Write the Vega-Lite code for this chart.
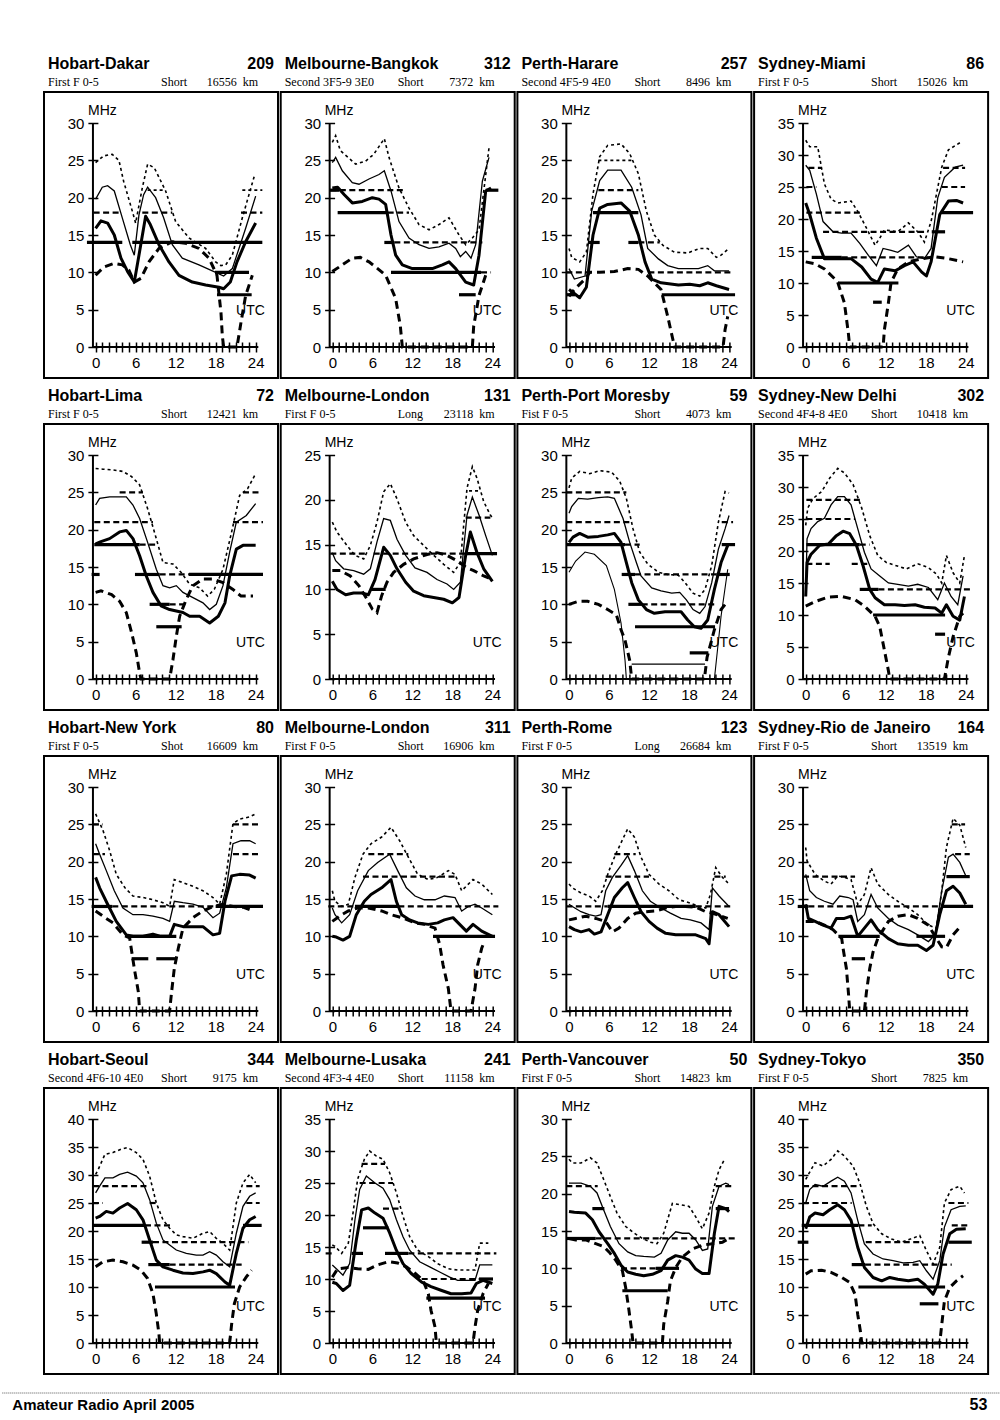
{
"$schema": "https://vega.github.io/schema/vega-lite/v6.json",
"padding": {"left": 0, "top": 53, "right": 5, "bottom": 5},
"data": {"values": [
{"p":1,"n":"Hobart-Dakar","no":"209","md":"First F 0-5","pt":"Short","km":"16556\u00a0 km","M":30},
{"p":2,"n":"Melbourne-Bangkok","no":"312","md":"Second 3F5-9 3E0","pt":"Short","km":"7372\u00a0 km","M":30},
{"p":3,"n":"Perth-Harare","no":"257","md":"Second 4F5-9 4E0","pt":"Short","km":"8496\u00a0 km","M":30},
{"p":4,"n":"Sydney-Miami","no":"86","md":"First F 0-5","pt":"Short","km":"15026\u00a0 km","M":35},
{"p":5,"n":"Hobart-Lima","no":"72","md":"First F 0-5","pt":"Short","km":"12421\u00a0 km","M":30},
{"p":6,"n":"Melbourne-London","no":"131","md":"First F 0-5","pt":"Long","km":"23118\u00a0 km","M":25},
{"p":7,"n":"Perth-Port Moresby","no":"59","md":"Fist F 0-5","pt":"Short","km":"4073\u00a0 km","M":30},
{"p":8,"n":"Sydney-New Delhi","no":"302","md":"Second 4F4-8 4E0","pt":"Short","km":"10418\u00a0 km","M":35},
{"p":9,"n":"Hobart-New York","no":"80","md":"First F 0-5","pt":"Shot","km":"16609\u00a0 km","M":30},
{"p":10,"n":"Melbourne-London","no":"311","md":"First F 0-5","pt":"Short","km":"16906\u00a0 km","M":30},
{"p":11,"n":"Perth-Rome","no":"123","md":"First F 0-5","pt":"Long","km":"26684\u00a0 km","M":30},
{"p":12,"n":"Sydney-Rio de Janeiro","no":"164","md":"First F 0-5","pt":"Short","km":"13519\u00a0 km","M":30},
{"p":13,"n":"Hobart-Seoul","no":"344","md":"Second 4F6-10 4E0","pt":"Short","km":"9175\u00a0 km","M":40},
{"p":14,"n":"Melbourne-Lusaka","no":"241","md":"Second 4F3-4 4E0","pt":"Short","km":"11158\u00a0 km","M":35},
{"p":15,"n":"Perth-Vancouver","no":"50","md":"First F 0-5","pt":"Short","km":"14823\u00a0 km","M":30},
{"p":16,"n":"Sydney-Tokyo","no":"350","md":"First F 0-5","pt":"Short","km":"7825\u00a0 km","M":40},
{"p":13,"ft":"Amateur Radio April 2005"},
{"p":16,"ft":"53"},

{"p":1,"s":"u","h":0,"f":24.7},{"p":1,"s":"u","h":1.2,"f":25.6},{"p":1,"s":"u","h":2.5,"f":25.8},{"p":1,"s":"u","h":3.5,"f":25},{"p":1,"s":"u","h":4.2,"f":22.2},{"p":1,"s":"u","h":5.5,"f":18.2},{"p":1,"s":"u","h":6,"f":16.6},{"p":1,"s":"u","h":7,"f":21.3},{"p":1,"s":"u","h":7.8,"f":24.5},{"p":1,"s":"u","h":8.8,"f":24},{"p":1,"s":"u","h":10.5,"f":20.9},{"p":1,"s":"u","h":12,"f":16.8},{"p":1,"s":"u","h":14,"f":14.6},{"p":1,"s":"u","h":16.5,"f":13.2},{"p":1,"s":"u","h":18,"f":11.4},{"p":1,"s":"u","h":18.8,"f":10.9},{"p":1,"s":"u","h":19.5,"f":11},{"p":1,"s":"u","h":20.5,"f":12.3},{"p":1,"s":"u","h":22,"f":17.3},{"p":1,"s":"u","h":23.8,"f":22.9},
{"p":1,"s":"m","h":0,"f":19.8},{"p":1,"s":"m","h":1,"f":21.4},{"p":1,"s":"m","h":1.8,"f":21.6},{"p":1,"s":"m","h":2.8,"f":20.9},{"p":1,"s":"m","h":4,"f":17.3},{"p":1,"s":"m","h":5.2,"f":13.7},{"p":1,"s":"m","h":5.8,"f":12.3},{"p":1,"s":"m","h":6.5,"f":17.7},{"p":1,"s":"m","h":7.2,"f":20.4},{"p":1,"s":"m","h":7.8,"f":21.4},{"p":1,"s":"m","h":9,"f":20},{"p":1,"s":"m","h":10.2,"f":17.3},{"p":1,"s":"m","h":11.5,"f":13.7},{"p":1,"s":"m","h":13,"f":11.9},{"p":1,"s":"m","h":15.5,"f":11},{"p":1,"s":"m","h":18,"f":10},{"p":1,"s":"m","h":19.2,"f":9.5},{"p":1,"s":"m","h":20.5,"f":10.5},{"p":1,"s":"m","h":21.5,"f":13.2},{"p":1,"s":"m","h":22.5,"f":15.9},{"p":1,"s":"m","h":24,"f":20.2},
{"p":1,"s":"t","h":0,"f":15.9},{"p":1,"s":"t","h":0.8,"f":16.9},{"p":1,"s":"t","h":1.8,"f":16.6},{"p":1,"s":"t","h":2.8,"f":15},{"p":1,"s":"t","h":3.8,"f":11.9},{"p":1,"s":"t","h":4.8,"f":10.1},{"p":1,"s":"t","h":5.8,"f":8.7},{"p":1,"s":"t","h":6.5,"f":12.3},{"p":1,"s":"t","h":7.5,"f":17.5},{"p":1,"s":"t","h":8.2,"f":16.4},{"p":1,"s":"t","h":9.5,"f":13.7},{"p":1,"s":"t","h":11,"f":11.4},{"p":1,"s":"t","h":12.5,"f":9.6},{"p":1,"s":"t","h":14.5,"f":8.7},{"p":1,"s":"t","h":16.5,"f":8.3},{"p":1,"s":"t","h":18.5,"f":8},{"p":1,"s":"t","h":19.2,"f":7.8},{"p":1,"s":"t","h":20.2,"f":8.7},{"p":1,"s":"t","h":21.2,"f":11.4},{"p":1,"s":"t","h":22.5,"f":14.1},{"p":1,"s":"t","h":24,"f":16.6},
{"p":1,"s":"l","h":0,"f":9.6},{"p":1,"s":"l","h":1.2,"f":10.7},{"p":1,"s":"l","h":2.8,"f":11.2},{"p":1,"s":"l","h":4,"f":11},{"p":1,"s":"l","h":5,"f":10.3},{"p":1,"s":"l","h":5.8,"f":8.7},{"p":1,"s":"l","h":6.8,"f":9.2},{"p":1,"s":"l","h":8,"f":11.4},{"p":1,"s":"l","h":9.5,"f":13.2},{"p":1,"s":"l","h":11.5,"f":14.1},{"p":1,"s":"l","h":13.5,"f":13.9},{"p":1,"s":"l","h":15.5,"f":13.2},{"p":1,"s":"l","h":17,"f":11.9},{"p":1,"s":"l","h":18.2,"f":9.6},{"p":1,"s":"l","h":18.8,"f":4.6},{"p":1,"s":"l","h":19,"f":1.5},{"p":1,"s":"l","h":19.2,"f":0},{"p":1,"s":"l","h":21.2,"f":0},{"p":1,"s":"l","h":21.8,"f":3.3},{"p":1,"s":"l","h":22.5,"f":6.9},{"p":1,"s":"l","h":23.5,"f":9.6},
{"p":1,"b":"o","h0":7.8,"h1":10.5,"f":21},{"p":1,"b":"o","h0":22,"h1":25,"f":21},
{"p":1,"b":"d","h0":-0.3,"h1":3.8,"f":18},{"p":1,"b":"d","h0":7,"h1":11.5,"f":18},{"p":1,"b":"d","h0":21.8,"h1":25,"f":18},
{"p":1,"b":"s","h0":-1.3,"h1":4,"f":14},{"p":1,"b":"s","h0":5.5,"h1":25,"f":14},{"p":1,"b":"s","h0":17.9,"h1":23,"f":10},{"p":1,"b":"s","h0":18.2,"h1":23.4,"f":7},

{"p":2,"s":"u","h":0,"f":27.4},{"p":2,"s":"u","h":0.5,"f":28.3},{"p":2,"s":"u","h":1.2,"f":26.3},{"p":2,"s":"u","h":3.5,"f":24.5},{"p":2,"s":"u","h":5,"f":24.9},{"p":2,"s":"u","h":6.2,"f":25.8},{"p":2,"s":"u","h":7.8,"f":27.9},{"p":2,"s":"u","h":8.5,"f":25.4},{"p":2,"s":"u","h":10,"f":21.3},{"p":2,"s":"u","h":11.5,"f":18.6},{"p":2,"s":"u","h":13,"f":16.4},{"p":2,"s":"u","h":14.5,"f":15.7},{"p":2,"s":"u","h":16,"f":16.4},{"p":2,"s":"u","h":17.5,"f":17.3},{"p":2,"s":"u","h":19,"f":15},{"p":2,"s":"u","h":20,"f":13.7},{"p":2,"s":"u","h":21,"f":14.6},{"p":2,"s":"u","h":22,"f":15.7},{"p":2,"s":"u","h":23.5,"f":26.7},
{"p":2,"s":"m","h":0,"f":24.7},{"p":2,"s":"m","h":0.5,"f":25.4},{"p":2,"s":"m","h":1.5,"f":23.6},{"p":2,"s":"m","h":3,"f":22},{"p":2,"s":"m","h":4,"f":21.8},{"p":2,"s":"m","h":5.5,"f":22.5},{"p":2,"s":"m","h":7,"f":23.1},{"p":2,"s":"m","h":7.8,"f":23.6},{"p":2,"s":"m","h":8.8,"f":20.9},{"p":2,"s":"m","h":10,"f":16.8},{"p":2,"s":"m","h":11.5,"f":14.6},{"p":2,"s":"m","h":13,"f":13.7},{"p":2,"s":"m","h":14.5,"f":13.2},{"p":2,"s":"m","h":16,"f":13.4},{"p":2,"s":"m","h":17.5,"f":13.9},{"p":2,"s":"m","h":18.5,"f":13.2},{"p":2,"s":"m","h":19.2,"f":12.1},{"p":2,"s":"m","h":20,"f":12.8},{"p":2,"s":"m","h":20.8,"f":11.9},{"p":2,"s":"m","h":21.5,"f":13.7},{"p":2,"s":"m","h":22.5,"f":22.2},{"p":2,"s":"m","h":23.5,"f":25.4},
{"p":2,"s":"t","h":0,"f":21.3},{"p":2,"s":"t","h":0.8,"f":21.4},{"p":2,"s":"t","h":1.8,"f":20.4},{"p":2,"s":"t","h":3,"f":19.3},{"p":2,"s":"t","h":4.5,"f":19.5},{"p":2,"s":"t","h":6,"f":20},{"p":2,"s":"t","h":7,"f":19.8},{"p":2,"s":"t","h":8,"f":19.1},{"p":2,"s":"t","h":8.8,"f":15},{"p":2,"s":"t","h":9.5,"f":12.3},{"p":2,"s":"t","h":10.5,"f":11},{"p":2,"s":"t","h":12,"f":10.5},{"p":2,"s":"t","h":13.5,"f":10.5},{"p":2,"s":"t","h":15,"f":10.5},{"p":2,"s":"t","h":16.5,"f":11},{"p":2,"s":"t","h":17.5,"f":11.4},{"p":2,"s":"t","h":18.5,"f":10.5},{"p":2,"s":"t","h":20,"f":8.7},{"p":2,"s":"t","h":21.2,"f":8.3},{"p":2,"s":"t","h":22,"f":12.3},{"p":2,"s":"t","h":23,"f":20.9},{"p":2,"s":"t","h":23.8,"f":21.3},
{"p":2,"s":"l","h":0,"f":10.1},{"p":2,"s":"l","h":1.5,"f":11},{"p":2,"s":"l","h":3,"f":11.9},{"p":2,"s":"l","h":4.2,"f":12},{"p":2,"s":"l","h":5.5,"f":11.4},{"p":2,"s":"l","h":6.8,"f":10.5},{"p":2,"s":"l","h":8,"f":9.6},{"p":2,"s":"l","h":9.5,"f":6.5},{"p":2,"s":"l","h":10.2,"f":2.8},{"p":2,"s":"l","h":10.5,"f":0},{"p":2,"s":"l","h":21,"f":0},{"p":2,"s":"l","h":21.2,"f":2.8},{"p":2,"s":"l","h":22,"f":6.9},{"p":2,"s":"l","h":23,"f":9.6},
{"p":2,"b":"d","h0":-0.3,"h1":10.8,"f":21},{"p":2,"b":"s","h0":-0.5,"h1":1,"f":21},{"p":2,"b":"s","h0":23,"h1":24.9,"f":21},
{"p":2,"b":"s","h0":0.8,"h1":8.3,"f":18},{"p":2,"b":"d","h0":8.3,"h1":11.5,"f":18},
{"p":2,"b":"s","h0":7.8,"h1":9.3,"f":14},{"p":2,"b":"d","h0":9.3,"h1":22.5,"f":14},
{"p":2,"b":"s","h0":8.8,"h1":22.3,"f":10},{"p":2,"b":"d","h0":22.3,"h1":23.8,"f":10},{"p":2,"b":"s","h0":19,"h1":21.5,"f":7},

{"p":3,"s":"u","h":0,"f":13.2},{"p":3,"s":"u","h":0.4,"f":12},{"p":3,"s":"u","h":1.6,"f":11.4},{"p":3,"s":"u","h":2.6,"f":12.7},{"p":3,"s":"u","h":3.6,"f":20.5},{"p":3,"s":"u","h":4.6,"f":25.5},{"p":3,"s":"u","h":5.8,"f":27},{"p":3,"s":"u","h":7.8,"f":27.2},{"p":3,"s":"u","h":9.1,"f":25.9},{"p":3,"s":"u","h":10.4,"f":23.2},{"p":3,"s":"u","h":11.6,"f":18.2},{"p":3,"s":"u","h":12.8,"f":15},{"p":3,"s":"u","h":14.1,"f":13.6},{"p":3,"s":"u","h":15.8,"f":12.7},{"p":3,"s":"u","h":17.8,"f":12.6},{"p":3,"s":"u","h":19.6,"f":13.2},{"p":3,"s":"u","h":20.8,"f":13.2},{"p":3,"s":"u","h":22.1,"f":12},{"p":3,"s":"u","h":22.8,"f":12.3},{"p":3,"s":"u","h":24,"f":13.2},
{"p":3,"s":"m","h":0,"f":10.5},{"p":3,"s":"m","h":0.8,"f":9.1},{"p":3,"s":"m","h":2.4,"f":9.5},{"p":3,"s":"m","h":3.4,"f":18.2},{"p":3,"s":"m","h":4.6,"f":22.3},{"p":3,"s":"m","h":5.8,"f":23.7},{"p":3,"s":"m","h":7.8,"f":23.7},{"p":3,"s":"m","h":9.4,"f":21.4},{"p":3,"s":"m","h":10.8,"f":17.7},{"p":3,"s":"m","h":11.8,"f":13.2},{"p":3,"s":"m","h":13.4,"f":11.8},{"p":3,"s":"m","h":14.8,"f":10.9},{"p":3,"s":"m","h":16.4,"f":10.5},{"p":3,"s":"m","h":17.8,"f":10.5},{"p":3,"s":"m","h":19.4,"f":10.5},{"p":3,"s":"m","h":20.8,"f":10.9},{"p":3,"s":"m","h":21.8,"f":10.2},{"p":3,"s":"m","h":24,"f":10.2},
{"p":3,"s":"t","h":0,"f":7.7},{"p":3,"s":"t","h":0.6,"f":7.3},{"p":3,"s":"t","h":1.6,"f":6.6},{"p":3,"s":"t","h":2.6,"f":8},{"p":3,"s":"t","h":3.6,"f":15},{"p":3,"s":"t","h":4.6,"f":18.6},{"p":3,"s":"t","h":5.8,"f":19.1},{"p":3,"s":"t","h":7.8,"f":19.3},{"p":3,"s":"t","h":9.1,"f":18.2},{"p":3,"s":"t","h":10.4,"f":15},{"p":3,"s":"t","h":11.4,"f":11.4},{"p":3,"s":"t","h":12.4,"f":9.1},{"p":3,"s":"t","h":13.8,"f":8.6},{"p":3,"s":"t","h":16.4,"f":8.3},{"p":3,"s":"t","h":18.1,"f":8.4},{"p":3,"s":"t","h":19.6,"f":8.2},{"p":3,"s":"t","h":20.8,"f":8.6},{"p":3,"s":"t","h":22.1,"f":8.2},{"p":3,"s":"t","h":24,"f":7.7},
{"p":3,"s":"l","h":0,"f":6.8},{"p":3,"s":"l","h":0.8,"f":7.7},{"p":3,"s":"l","h":2.4,"f":9.1},{"p":3,"s":"l","h":3.1,"f":10},{"p":3,"s":"l","h":4.6,"f":10},{"p":3,"s":"l","h":6.8,"f":10.1},{"p":3,"s":"l","h":8.8,"f":10.5},{"p":3,"s":"l","h":10.4,"f":10.4},{"p":3,"s":"l","h":11.8,"f":9.5},{"p":3,"s":"l","h":13.8,"f":7.7},{"p":3,"s":"l","h":14.8,"f":4.1},{"p":3,"s":"l","h":15.6,"f":0.9},{"p":3,"s":"l","h":15.8,"f":0},{"p":3,"s":"l","h":23.1,"f":0},{"p":3,"s":"l","h":23.4,"f":2.3},{"p":3,"s":"l","h":23.8,"f":4.1},
{"p":3,"b":"o","h0":4.4,"h1":9.4,"f":25},{"p":3,"b":"d","h0":4.4,"h1":10.4,"f":21},{"p":3,"b":"s","h0":3.6,"h1":10.4,"f":18},
{"p":3,"b":"s","h0":2.9,"h1":4.6,"f":14},{"p":3,"b":"s","h0":8.9,"h1":10.4,"f":14},{"p":3,"b":"d","h0":10.4,"h1":13.6,"f":14},
{"p":3,"b":"d","h0":-0.4,"h1":3.4,"f":10},{"p":3,"b":"d","h0":11.9,"h1":24.4,"f":10},{"p":3,"b":"s","h0":-0.4,"h1":0.9,"f":7},{"p":3,"b":"s","h0":13.9,"h1":24.9,"f":7},

{"p":4,"s":"u","h":0,"f":32.3},{"p":4,"s":"u","h":0.6,"f":31.3},{"p":4,"s":"u","h":1.8,"f":31.3},{"p":4,"s":"u","h":2.8,"f":25.5},{"p":4,"s":"u","h":3.8,"f":23.1},{"p":4,"s":"u","h":4.8,"f":22.5},{"p":4,"s":"u","h":6.8,"f":22.8},{"p":4,"s":"u","h":7.8,"f":21.2},{"p":4,"s":"u","h":9.1,"f":18.6},{"p":4,"s":"u","h":10.4,"f":15.9},{"p":4,"s":"u","h":11.1,"f":17},{"p":4,"s":"u","h":11.8,"f":18.3},{"p":4,"s":"u","h":13.8,"f":18},{"p":4,"s":"u","h":15.4,"f":19.4},{"p":4,"s":"u","h":16.8,"f":18},{"p":4,"s":"u","h":17.8,"f":16.4},{"p":4,"s":"u","h":18.8,"f":19.6},{"p":4,"s":"u","h":20.4,"f":28.1},{"p":4,"s":"u","h":21.4,"f":30.8},{"p":4,"s":"u","h":23.4,"f":32.1},
{"p":4,"s":"m","h":0,"f":28.4},{"p":4,"s":"m","h":0.6,"f":27.6},{"p":4,"s":"m","h":1.6,"f":23.9},{"p":4,"s":"m","h":2.6,"f":19.6},{"p":4,"s":"m","h":4.1,"f":18},{"p":4,"s":"m","h":5.4,"f":17.8},{"p":4,"s":"m","h":6.8,"f":17.8},{"p":4,"s":"m","h":8.1,"f":16.2},{"p":4,"s":"m","h":9.4,"f":14.3},{"p":4,"s":"m","h":10.6,"f":12.7},{"p":4,"s":"m","h":11.6,"f":15.4},{"p":4,"s":"m","h":12.8,"f":15.1},{"p":4,"s":"m","h":13.8,"f":14.8},{"p":4,"s":"m","h":15.4,"f":15.9},{"p":4,"s":"m","h":16.6,"f":14.1},{"p":4,"s":"m","h":17.8,"f":13.8},{"p":4,"s":"m","h":18.8,"f":15.4},{"p":4,"s":"m","h":19.8,"f":23.3},{"p":4,"s":"m","h":20.8,"f":26.5},{"p":4,"s":"m","h":22.4,"f":28.1},{"p":4,"s":"m","h":23.6,"f":28.4},
{"p":4,"s":"t","h":0,"f":22.5},{"p":4,"s":"t","h":0.6,"f":20.7},{"p":4,"s":"t","h":1.6,"f":17},{"p":4,"s":"t","h":2.8,"f":13.8},{"p":4,"s":"t","h":4.1,"f":13.8},{"p":4,"s":"t","h":5.4,"f":13.8},{"p":4,"s":"t","h":6.8,"f":13.8},{"p":4,"s":"t","h":8.4,"f":12.5},{"p":4,"s":"t","h":9.8,"f":10.6},{"p":4,"s":"t","h":10.8,"f":10.1},{"p":4,"s":"t","h":11.8,"f":12.2},{"p":4,"s":"t","h":13.4,"f":11.9},{"p":4,"s":"t","h":14.8,"f":12.7},{"p":4,"s":"t","h":16.1,"f":13.3},{"p":4,"s":"t","h":17.4,"f":11.7},{"p":4,"s":"t","h":18.1,"f":11.1},{"p":4,"s":"t","h":18.8,"f":13.3},{"p":4,"s":"t","h":20.1,"f":20.7},{"p":4,"s":"t","h":21.4,"f":22.8},{"p":4,"s":"t","h":22.6,"f":22.9},{"p":4,"s":"t","h":23.6,"f":22.5},
{"p":4,"s":"l","h":0,"f":13.3},{"p":4,"s":"l","h":1.4,"f":13},{"p":4,"s":"l","h":2.8,"f":12.2},{"p":4,"s":"l","h":4.4,"f":10.6},{"p":4,"s":"l","h":4.8,"f":10.1},{"p":4,"s":"l","h":5.8,"f":6.9},{"p":4,"s":"l","h":6.4,"f":2.1},{"p":4,"s":"l","h":6.6,"f":0},{"p":4,"s":"l","h":11.6,"f":0},{"p":4,"s":"l","h":11.8,"f":2.7},{"p":4,"s":"l","h":12.4,"f":6.9},{"p":4,"s":"l","h":12.8,"f":10.1},{"p":4,"s":"l","h":13.8,"f":12.2},{"p":4,"s":"l","h":15.4,"f":13.3},{"p":4,"s":"l","h":17.4,"f":13.8},{"p":4,"s":"l","h":19.4,"f":14.1},{"p":4,"s":"l","h":21.4,"f":13.8},{"p":4,"s":"l","h":23.6,"f":13.3},
{"p":4,"b":"d","h0":0.4,"h1":2.4,"f":28},{"p":4,"b":"d","h0":20.6,"h1":23.9,"f":28},{"p":4,"b":"d","h0":0.1,"h1":1.6,"f":25},{"p":4,"b":"d","h0":20.4,"h1":23.9,"f":25},
{"p":4,"b":"d","h0":0.1,"h1":8.4,"f":21},{"p":4,"b":"s","h0":20.4,"h1":25.1,"f":21},{"p":4,"b":"d","h0":2.6,"h1":17.9,"f":18},{"p":4,"b":"s","h0":18.9,"h1":20.9,"f":18},
{"p":4,"b":"s","h0":0.9,"h1":5.4,"f":14},{"p":4,"b":"d","h0":5.4,"h1":18.4,"f":14},{"p":4,"b":"s","h0":4.9,"h1":13.9,"f":10},{"p":4,"b":"s","h0":10.1,"h1":11.4,"f":7},

{"p":5,"s":"u","h":0,"f":28.2},{"p":5,"s":"u","h":1.1,"f":28.1},{"p":5,"s":"u","h":2.6,"f":28},{"p":5,"s":"u","h":4.1,"f":27.8},{"p":5,"s":"u","h":5.4,"f":27.1},{"p":5,"s":"u","h":6.6,"f":26},{"p":5,"s":"u","h":7.8,"f":22.8},{"p":5,"s":"u","h":9.1,"f":18.8},{"p":5,"s":"u","h":10.1,"f":15.6},{"p":5,"s":"u","h":11.6,"f":15.4},{"p":5,"s":"u","h":12.8,"f":14.3},{"p":5,"s":"u","h":14.1,"f":12.7},{"p":5,"s":"u","h":15.6,"f":12.2},{"p":5,"s":"u","h":16.8,"f":11.1},{"p":5,"s":"u","h":17.8,"f":12},{"p":5,"s":"u","h":19.1,"f":14.7},{"p":5,"s":"u","h":20.4,"f":19.7},{"p":5,"s":"u","h":21.6,"f":24.6},{"p":5,"s":"u","h":22.8,"f":25.5},{"p":5,"s":"u","h":24,"f":27.5},
{"p":5,"s":"m","h":0,"f":23.3},{"p":5,"s":"m","h":0.6,"f":24.2},{"p":5,"s":"m","h":2.1,"f":24.4},{"p":5,"s":"m","h":3.6,"f":24.4},{"p":5,"s":"m","h":4.6,"f":24.4},{"p":5,"s":"m","h":5.6,"f":23.3},{"p":5,"s":"m","h":6.6,"f":21.5},{"p":5,"s":"m","h":7.8,"f":18.3},{"p":5,"s":"m","h":9.1,"f":14.7},{"p":5,"s":"m","h":10.1,"f":12.5},{"p":5,"s":"m","h":11.1,"f":12.2},{"p":5,"s":"m","h":12.1,"f":12.5},{"p":5,"s":"m","h":13.1,"f":11.6},{"p":5,"s":"m","h":14.6,"f":10.9},{"p":5,"s":"m","h":16.1,"f":10.2},{"p":5,"s":"m","h":17.1,"f":9.3},{"p":5,"s":"m","h":18.1,"f":10},{"p":5,"s":"m","h":19.1,"f":12.5},{"p":5,"s":"m","h":20.1,"f":17},{"p":5,"s":"m","h":21.1,"f":21},{"p":5,"s":"m","h":22.6,"f":21.9},{"p":5,"s":"m","h":24,"f":23.5},
{"p":5,"s":"t","h":0,"f":18.1},{"p":5,"s":"t","h":0.8,"f":18.4},{"p":5,"s":"t","h":2.1,"f":18.8},{"p":5,"s":"t","h":3.6,"f":19.7},{"p":5,"s":"t","h":4.6,"f":19.9},{"p":5,"s":"t","h":5.6,"f":18.8},{"p":5,"s":"t","h":6.6,"f":16.5},{"p":5,"s":"t","h":7.6,"f":13.8},{"p":5,"s":"t","h":8.6,"f":11.6},{"p":5,"s":"t","h":9.8,"f":9.8},{"p":5,"s":"t","h":11.1,"f":9.3},{"p":5,"s":"t","h":12.1,"f":9.1},{"p":5,"s":"t","h":13.1,"f":8.9},{"p":5,"s":"t","h":14.1,"f":8.4},{"p":5,"s":"t","h":15.6,"f":8.4},{"p":5,"s":"t","h":17.1,"f":7.5},{"p":5,"s":"t","h":18.4,"f":8.4},{"p":5,"s":"t","h":19.4,"f":10.2},{"p":5,"s":"t","h":20.1,"f":13.8},{"p":5,"s":"t","h":21.1,"f":17.4},{"p":5,"s":"t","h":22.1,"f":17.9},{"p":5,"s":"t","h":24,"f":17.9},
{"p":5,"s":"l","h":0,"f":11.6},{"p":5,"s":"l","h":0.8,"f":11.8},{"p":5,"s":"l","h":2.4,"f":11.3},{"p":5,"s":"l","h":3.6,"f":10.4},{"p":5,"s":"l","h":4.6,"f":8.9},{"p":5,"s":"l","h":5.4,"f":6.2},{"p":5,"s":"l","h":6.1,"f":3.5},{"p":5,"s":"l","h":6.6,"f":0.8},{"p":5,"s":"l","h":6.8,"f":0},{"p":5,"s":"l","h":11.1,"f":0},{"p":5,"s":"l","h":11.6,"f":2.6},{"p":5,"s":"l","h":12.1,"f":5.7},{"p":5,"s":"l","h":12.6,"f":8.4},{"p":5,"s":"l","h":13.6,"f":10.7},{"p":5,"s":"l","h":14.6,"f":12.5},{"p":5,"s":"l","h":16.1,"f":13.4},{"p":5,"s":"l","h":17.6,"f":13.4},{"p":5,"s":"l","h":19.1,"f":12.9},{"p":5,"s":"l","h":20.6,"f":12},{"p":5,"s":"l","h":21.8,"f":11.1},{"p":5,"s":"l","h":23.6,"f":11.1},
{"p":5,"b":"d","h0":3.6,"h1":7.1,"f":25},{"p":5,"b":"d","h0":22.1,"h1":24.6,"f":25},{"p":5,"b":"d","h0":-0.2,"h1":8.6,"f":21},{"p":5,"b":"d","h0":20.6,"h1":25.1,"f":21},
{"p":5,"b":"s","h0":-0.2,"h1":6.6,"f":18},{"p":5,"b":"d","h0":6.6,"h1":9.1,"f":18},
{"p":5,"b":"s","h0":-0.6,"h1":0.6,"f":14},{"p":5,"b":"s","h0":5.9,"h1":9.6,"f":14},{"p":5,"b":"d","h0":9.6,"h1":14,"f":14},{"p":5,"b":"s","h0":14,"h1":25.1,"f":14},
{"p":5,"b":"s","h0":8.1,"h1":11.1,"f":10},{"p":5,"b":"d","h0":11.1,"h1":13.6,"f":10},{"p":5,"b":"s","h0":9.1,"h1":12.9,"f":7},

{"p":6,"s":"u","h":0,"f":17.5},{"p":6,"s":"u","h":0.7,"f":16.4},{"p":6,"s":"u","h":2.2,"f":14.9},{"p":6,"s":"u","h":3.4,"f":13.8},{"p":6,"s":"u","h":4.7,"f":13.4},{"p":6,"s":"u","h":5.7,"f":14.9},{"p":6,"s":"u","h":6.7,"f":17.5},{"p":6,"s":"u","h":7.7,"f":20.9},{"p":6,"s":"u","h":8.7,"f":21.8},{"p":6,"s":"u","h":9.7,"f":20.1},{"p":6,"s":"u","h":11,"f":17.5},{"p":6,"s":"u","h":12.2,"f":16},{"p":6,"s":"u","h":13.7,"f":14.9},{"p":6,"s":"u","h":15.2,"f":13.8},{"p":6,"s":"u","h":16.7,"f":12.8},{"p":6,"s":"u","h":18.2,"f":11.9},{"p":6,"s":"u","h":19.2,"f":13},{"p":6,"s":"u","h":20.2,"f":21.3},{"p":6,"s":"u","h":21,"f":23.7},{"p":6,"s":"u","h":21.7,"f":22.4},{"p":6,"s":"u","h":22.7,"f":19.8},{"p":6,"s":"u","h":23.7,"f":18.3},{"p":6,"s":"u","h":24,"f":18},
{"p":6,"s":"m","h":0,"f":14.1},{"p":6,"s":"m","h":0.5,"f":13.2},{"p":6,"s":"m","h":1.7,"f":12.3},{"p":6,"s":"m","h":3.2,"f":12.1},{"p":6,"s":"m","h":4.7,"f":11.7},{"p":6,"s":"m","h":5.7,"f":12.3},{"p":6,"s":"m","h":6.7,"f":15.3},{"p":6,"s":"m","h":7.7,"f":17.9},{"p":6,"s":"m","h":8.7,"f":17.7},{"p":6,"s":"m","h":9.7,"f":15.6},{"p":6,"s":"m","h":11,"f":13.8},{"p":6,"s":"m","h":12.4,"f":12.4},{"p":6,"s":"m","h":14.2,"f":11.9},{"p":6,"s":"m","h":15.7,"f":11.1},{"p":6,"s":"m","h":17.2,"f":10.6},{"p":6,"s":"m","h":18.2,"f":10},{"p":6,"s":"m","h":19.2,"f":10.8},{"p":6,"s":"m","h":20.2,"f":18.3},{"p":6,"s":"m","h":21,"f":20.3},{"p":6,"s":"m","h":22,"f":18.3},{"p":6,"s":"m","h":23,"f":16},{"p":6,"s":"m","h":24,"f":13.8},
{"p":6,"s":"t","h":0,"f":10.9},{"p":6,"s":"t","h":0.7,"f":10},{"p":6,"s":"t","h":2,"f":9.4},{"p":6,"s":"t","h":3.2,"f":9.6},{"p":6,"s":"t","h":4.4,"f":9.6},{"p":6,"s":"t","h":5.4,"f":9.4},{"p":6,"s":"t","h":6.4,"f":11.1},{"p":6,"s":"t","h":7.7,"f":14.7},{"p":6,"s":"t","h":8.7,"f":13.8},{"p":6,"s":"t","h":9.7,"f":12.3},{"p":6,"s":"t","h":11,"f":10.8},{"p":6,"s":"t","h":12.2,"f":9.8},{"p":6,"s":"t","h":13.7,"f":9.3},{"p":6,"s":"t","h":15.2,"f":9.1},{"p":6,"s":"t","h":16.7,"f":8.9},{"p":6,"s":"t","h":18,"f":8.5},{"p":6,"s":"t","h":19,"f":9.1},{"p":6,"s":"t","h":20,"f":13.8},{"p":6,"s":"t","h":20.7,"f":16.4},{"p":6,"s":"t","h":21.7,"f":14.1},{"p":6,"s":"t","h":22.7,"f":12.3},{"p":6,"s":"t","h":24,"f":10.9},
{"p":6,"s":"l","h":0,"f":12.1},{"p":6,"s":"l","h":1.2,"f":12.1},{"p":6,"s":"l","h":2.7,"f":11.5},{"p":6,"s":"l","h":4,"f":10.4},{"p":6,"s":"l","h":5.2,"f":8.9},{"p":6,"s":"l","h":6,"f":7.8},{"p":6,"s":"l","h":6.7,"f":7.4},{"p":6,"s":"l","h":7.4,"f":9.3},{"p":6,"s":"l","h":8.2,"f":10.8},{"p":6,"s":"l","h":9.2,"f":11.9},{"p":6,"s":"l","h":10.7,"f":12.8},{"p":6,"s":"l","h":12.2,"f":13.4},{"p":6,"s":"l","h":14.2,"f":13.9},{"p":6,"s":"l","h":15.7,"f":14.1},{"p":6,"s":"l","h":17.2,"f":13.8},{"p":6,"s":"l","h":18.7,"f":13.2},{"p":6,"s":"l","h":20.2,"f":12.4},{"p":6,"s":"l","h":21.2,"f":12.1},{"p":6,"s":"l","h":22.7,"f":11.5},{"p":6,"s":"l","h":24,"f":11.1},
{"p":6,"b":"o","h0":20.5,"h1":22.2,"f":21},{"p":6,"b":"d","h0":20,"h1":23.7,"f":18},
{"p":6,"b":"d","h0":-0.3,"h1":5.2,"f":14},{"p":6,"b":"d","h0":6.2,"h1":20,"f":14},{"p":6,"b":"s","h0":20,"h1":24.7,"f":14},{"p":6,"b":"s","h0":5.7,"h1":8,"f":10},

{"p":7,"s":"u","h":0,"f":25.6},{"p":7,"s":"u","h":0.4,"f":26.9},{"p":7,"s":"u","h":1.6,"f":27.8},{"p":7,"s":"u","h":3.1,"f":27.5},{"p":7,"s":"u","h":4.6,"f":27.9},{"p":7,"s":"u","h":6.4,"f":27.7},{"p":7,"s":"u","h":7.6,"f":26.5},{"p":7,"s":"u","h":8.6,"f":24.2},{"p":7,"s":"u","h":9.6,"f":20.1},{"p":7,"s":"u","h":10.6,"f":17},{"p":7,"s":"u","h":11.8,"f":15.4},{"p":7,"s":"u","h":13.4,"f":14.3},{"p":7,"s":"u","h":14.8,"f":14},{"p":7,"s":"u","h":16.4,"f":13.9},{"p":7,"s":"u","h":17.4,"f":12.9},{"p":7,"s":"u","h":18.6,"f":11.5},{"p":7,"s":"u","h":19.6,"f":11.1},{"p":7,"s":"u","h":20.4,"f":12},{"p":7,"s":"u","h":21.4,"f":15.2},{"p":7,"s":"u","h":22.4,"f":21},{"p":7,"s":"u","h":23.4,"f":25.1},{"p":7,"s":"u","h":24,"f":24.9},
{"p":7,"s":"m","h":0,"f":22.2},{"p":7,"s":"m","h":0.4,"f":23.1},{"p":7,"s":"m","h":1.4,"f":24.2},{"p":7,"s":"m","h":2.8,"f":24.1},{"p":7,"s":"m","h":4.4,"f":24.3},{"p":7,"s":"m","h":5.8,"f":24.4},{"p":7,"s":"m","h":6.8,"f":24.2},{"p":7,"s":"m","h":8.1,"f":21.5},{"p":7,"s":"m","h":9.1,"f":18.3},{"p":7,"s":"m","h":10.1,"f":15.6},{"p":7,"s":"m","h":10.8,"f":13.8},{"p":7,"s":"m","h":12.4,"f":12.2},{"p":7,"s":"m","h":13.8,"f":11.8},{"p":7,"s":"m","h":15.4,"f":11.5},{"p":7,"s":"m","h":16.6,"f":11.6},{"p":7,"s":"m","h":17.6,"f":10.6},{"p":7,"s":"m","h":18.6,"f":9.3},{"p":7,"s":"m","h":19.6,"f":8.8},{"p":7,"s":"m","h":20.4,"f":9.7},{"p":7,"s":"m","h":21.4,"f":12.9},{"p":7,"s":"m","h":22.4,"f":17.4},{"p":7,"s":"m","h":23.4,"f":20.1},{"p":7,"s":"m","h":24,"f":21.9},
{"p":7,"s":"t","h":0,"f":18.3},{"p":7,"s":"t","h":0.6,"f":19},{"p":7,"s":"t","h":1.6,"f":19.5},{"p":7,"s":"t","h":2.8,"f":19},{"p":7,"s":"t","h":4.4,"f":19.1},{"p":7,"s":"t","h":5.8,"f":19.3},{"p":7,"s":"t","h":6.8,"f":19.5},{"p":7,"s":"t","h":7.8,"f":18.3},{"p":7,"s":"t","h":8.6,"f":15.6},{"p":7,"s":"t","h":9.4,"f":12.9},{"p":7,"s":"t","h":10.4,"f":10.6},{"p":7,"s":"t","h":11.6,"f":9.3},{"p":7,"s":"t","h":12.8,"f":8.8},{"p":7,"s":"t","h":14.4,"f":9},{"p":7,"s":"t","h":15.8,"f":9},{"p":7,"s":"t","h":16.8,"f":9},{"p":7,"s":"t","h":17.8,"f":7.9},{"p":7,"s":"t","h":18.8,"f":7},{"p":7,"s":"t","h":19.8,"f":6.8},{"p":7,"s":"t","h":20.8,"f":7.9},{"p":7,"s":"t","h":21.8,"f":12},{"p":7,"s":"t","h":22.8,"f":15.6},{"p":7,"s":"t","h":23.8,"f":17.9},
{"p":7,"s":"l","h":0,"f":10},{"p":7,"s":"l","h":1.4,"f":10.4},{"p":7,"s":"l","h":2.8,"f":10.4},{"p":7,"s":"l","h":4.4,"f":10},{"p":7,"s":"l","h":5.8,"f":9.3},{"p":7,"s":"l","h":7.1,"f":8.6},{"p":7,"s":"l","h":7.8,"f":6.6},{"p":7,"s":"l","h":8.4,"f":5.2},{"p":7,"s":"l","h":9.1,"f":2.5},{"p":7,"s":"l","h":9.4,"f":0},{"p":7,"s":"l","h":20.3,"f":0},{"p":7,"s":"l","h":20.7,"f":2.9},{"p":7,"s":"l","h":21.8,"f":6.6},{"p":7,"s":"l","h":22.8,"f":9.3},{"p":7,"s":"l","h":23.6,"f":10.2},
{"p":7,"s":"e","h":0,"f":14.3},{"p":7,"s":"e","h":1,"f":15.8},{"p":7,"s":"e","h":2.4,"f":17},{"p":7,"s":"e","h":3.8,"f":16.7},{"p":7,"s":"e","h":5.6,"f":15.2},{"p":7,"s":"e","h":6.8,"f":12},{"p":7,"s":"e","h":7.8,"f":7.5},{"p":7,"s":"e","h":8.4,"f":2.5},{"p":7,"s":"e","h":8.6,"f":0},{"p":7,"s":"e","h":21.8,"f":0},{"p":7,"s":"e","h":22.8,"f":8.4},{"p":7,"s":"e","h":23.8,"f":14.7},
{"p":7,"b":"d","h0":-0.4,"h1":8.6,"f":25},{"p":7,"b":"d","h0":-0.4,"h1":9.1,"f":21},{"p":7,"b":"d","h0":22.9,"h1":24.6,"f":21},
{"p":7,"b":"s","h0":-0.4,"h1":8.4,"f":18},{"p":7,"b":"d","h0":8.4,"h1":10.6,"f":18},{"p":7,"b":"s","h0":22.9,"h1":24.9,"f":18},
{"p":7,"b":"s","h0":7.9,"h1":9.9,"f":14},{"p":7,"b":"d","h0":9.9,"h1":22.1,"f":14},{"p":7,"b":"s","h0":22.1,"h1":24.1,"f":14},
{"p":7,"b":"s","h0":8.9,"h1":10.9,"f":10},{"p":7,"b":"d","h0":10.9,"h1":22.1,"f":10},{"p":7,"b":"s","h0":9.9,"h1":21.9,"f":7},{"p":7,"b":"s","h0":18.1,"h1":20.9,"f":3.5},{"p":7,"b":"n","h0":9.4,"h1":20.4,"f":2},

{"p":8,"s":"u","h":0,"f":24},{"p":8,"s":"u","h":0.3,"f":26.7},{"p":8,"s":"u","h":1.1,"f":28.2},{"p":8,"s":"u","h":2.4,"f":29.3},{"p":8,"s":"u","h":3.6,"f":31.4},{"p":8,"s":"u","h":4.8,"f":32.9},{"p":8,"s":"u","h":5.8,"f":32.2},{"p":8,"s":"u","h":7.1,"f":30.4},{"p":8,"s":"u","h":8.4,"f":26.7},{"p":8,"s":"u","h":9.6,"f":22.4},{"p":8,"s":"u","h":10.8,"f":19.3},{"p":8,"s":"u","h":12.1,"f":18.2},{"p":8,"s":"u","h":13.6,"f":17.7},{"p":8,"s":"u","h":15.1,"f":17.2},{"p":8,"s":"u","h":16.8,"f":18},{"p":8,"s":"u","h":18.4,"f":17.4},{"p":8,"s":"u","h":19.6,"f":16.4},{"p":8,"s":"u","h":20.4,"f":15},{"p":8,"s":"u","h":21.1,"f":19.3},{"p":8,"s":"u","h":22.1,"f":16.6},{"p":8,"s":"u","h":23.1,"f":15},{"p":8,"s":"u","h":23.8,"f":19.3},
{"p":8,"s":"m","h":0,"f":13.5},{"p":8,"s":"m","h":0.2,"f":21.9},{"p":8,"s":"m","h":0.8,"f":23.5},{"p":8,"s":"m","h":1.8,"f":24.6},{"p":8,"s":"m","h":2.8,"f":25.1},{"p":8,"s":"m","h":3.8,"f":27.2},{"p":8,"s":"m","h":4.8,"f":28.5},{"p":8,"s":"m","h":5.8,"f":28.5},{"p":8,"s":"m","h":6.8,"f":27.2},{"p":8,"s":"m","h":7.8,"f":23.5},{"p":8,"s":"m","h":8.8,"f":19.8},{"p":8,"s":"m","h":9.8,"f":17.2},{"p":8,"s":"m","h":11.1,"f":16.1},{"p":8,"s":"m","h":12.4,"f":15},{"p":8,"s":"m","h":13.8,"f":14.8},{"p":8,"s":"m","h":15.4,"f":14.5},{"p":8,"s":"m","h":16.8,"f":14.8},{"p":8,"s":"m","h":18.4,"f":14.3},{"p":8,"s":"m","h":19.8,"f":12.4},{"p":8,"s":"m","h":20.8,"f":15},{"p":8,"s":"m","h":21.8,"f":12.9},{"p":8,"s":"m","h":22.8,"f":11.6},{"p":8,"s":"m","h":23.6,"f":16.1},
{"p":8,"s":"t","h":0,"f":12.9},{"p":8,"s":"t","h":0.2,"f":18.2},{"p":8,"s":"t","h":0.8,"f":19.5},{"p":8,"s":"t","h":2.1,"f":20.9},{"p":8,"s":"t","h":3.4,"f":21.1},{"p":8,"s":"t","h":4.6,"f":22.4},{"p":8,"s":"t","h":5.6,"f":23.1},{"p":8,"s":"t","h":6.6,"f":22.7},{"p":8,"s":"t","h":7.6,"f":20.9},{"p":8,"s":"t","h":8.6,"f":17.7},{"p":8,"s":"t","h":9.6,"f":14},{"p":8,"s":"t","h":10.4,"f":12.7},{"p":8,"s":"t","h":11.8,"f":11.6},{"p":8,"s":"t","h":13.4,"f":11.6},{"p":8,"s":"t","h":14.8,"f":11.5},{"p":8,"s":"t","h":16.4,"f":11.6},{"p":8,"s":"t","h":17.8,"f":11.2},{"p":8,"s":"t","h":19.4,"f":11.1},{"p":8,"s":"t","h":20.4,"f":10.3},{"p":8,"s":"t","h":21.1,"f":11.6},{"p":8,"s":"t","h":22.1,"f":9.8},{"p":8,"s":"t","h":23.1,"f":9.2},{"p":8,"s":"t","h":23.8,"f":12.9},
{"p":8,"s":"l","h":0,"f":11.4},{"p":8,"s":"l","h":1.4,"f":12.1},{"p":8,"s":"l","h":3.4,"f":12.8},{"p":8,"s":"l","h":5.4,"f":12.9},{"p":8,"s":"l","h":7.4,"f":12.4},{"p":8,"s":"l","h":8.8,"f":11.4},{"p":8,"s":"l","h":10.4,"f":9.8},{"p":8,"s":"l","h":11.1,"f":8.2},{"p":8,"s":"l","h":11.8,"f":4.5},{"p":8,"s":"l","h":12.4,"f":1.3},{"p":8,"s":"l","h":12.6,"f":0},{"p":8,"s":"l","h":20.8,"f":0},{"p":8,"s":"l","h":21.4,"f":3.4},{"p":8,"s":"l","h":22.1,"f":6.6},{"p":8,"s":"l","h":23.1,"f":9.8},{"p":8,"s":"l","h":23.6,"f":10.3},
{"p":8,"b":"d","h0":0.1,"h1":8.4,"f":28},{"p":8,"b":"d","h0":0.1,"h1":7.4,"f":25},{"p":8,"b":"s","h0":0.1,"h1":8.1,"f":21},{"p":8,"b":"d","h0":8.1,"h1":9.6,"f":21},
{"p":8,"b":"d","h0":0.1,"h1":3.6,"f":18},{"p":8,"b":"d","h0":6.9,"h1":9.4,"f":18},{"p":8,"b":"s","h0":8.1,"h1":10.9,"f":14},{"p":8,"b":"d","h0":10.9,"h1":24.9,"f":14},
{"p":8,"b":"s","h0":10.1,"h1":20.9,"f":10},{"p":8,"b":"s","h0":19.4,"h1":20.9,"f":7},

{"p":9,"s":"u","h":0,"f":26.4},{"p":9,"s":"u","h":1.1,"f":24.2},{"p":9,"s":"u","h":2.1,"f":21.5},{"p":9,"s":"u","h":3.1,"f":18.3},{"p":9,"s":"u","h":4.4,"f":16.5},{"p":9,"s":"u","h":5.6,"f":15.4},{"p":9,"s":"u","h":7.1,"f":15.2},{"p":9,"s":"u","h":8.6,"f":14.9},{"p":9,"s":"u","h":10.1,"f":14.5},{"p":9,"s":"u","h":11.1,"f":14},{"p":9,"s":"u","h":11.8,"f":17.6},{"p":9,"s":"u","h":13.1,"f":17.2},{"p":9,"s":"u","h":14.6,"f":16.7},{"p":9,"s":"u","h":16.1,"f":16.1},{"p":9,"s":"u","h":17.6,"f":15.2},{"p":9,"s":"u","h":18.6,"f":14.3},{"p":9,"s":"u","h":19.6,"f":18.3},{"p":9,"s":"u","h":20.6,"f":25.1},{"p":9,"s":"u","h":21.6,"f":25.7},{"p":9,"s":"u","h":23.1,"f":26},{"p":9,"s":"u","h":24,"f":26.4},
{"p":9,"s":"m","h":0,"f":22.4},{"p":9,"s":"m","h":0.6,"f":21},{"p":9,"s":"m","h":1.6,"f":18.8},{"p":9,"s":"m","h":2.8,"f":16.1},{"p":9,"s":"m","h":4.1,"f":13.8},{"p":9,"s":"m","h":5.6,"f":12.9},{"p":9,"s":"m","h":7.1,"f":12.9},{"p":9,"s":"m","h":8.6,"f":12.7},{"p":9,"s":"m","h":10.1,"f":12.4},{"p":9,"s":"m","h":11.1,"f":12},{"p":9,"s":"m","h":11.8,"f":14.7},{"p":9,"s":"m","h":13.1,"f":14.5},{"p":9,"s":"m","h":14.6,"f":14.3},{"p":9,"s":"m","h":16.1,"f":13.9},{"p":9,"s":"m","h":17.6,"f":12.5},{"p":9,"s":"m","h":18.6,"f":13.1},{"p":9,"s":"m","h":19.6,"f":16.5},{"p":9,"s":"m","h":20.6,"f":22.4},{"p":9,"s":"m","h":21.8,"f":22.8},{"p":9,"s":"m","h":23.1,"f":22.8},{"p":9,"s":"m","h":24,"f":22.4},
{"p":9,"s":"t","h":0,"f":17.9},{"p":9,"s":"t","h":0.6,"f":16.5},{"p":9,"s":"t","h":1.8,"f":14.3},{"p":9,"s":"t","h":3.1,"f":12},{"p":9,"s":"t","h":4.6,"f":10.2},{"p":9,"s":"t","h":5.6,"f":10},{"p":9,"s":"t","h":7.1,"f":10},{"p":9,"s":"t","h":8.6,"f":10.3},{"p":9,"s":"t","h":9.8,"f":10},{"p":9,"s":"t","h":11.1,"f":10},{"p":9,"s":"t","h":11.8,"f":11.6},{"p":9,"s":"t","h":13.1,"f":11.3},{"p":9,"s":"t","h":14.6,"f":11.3},{"p":9,"s":"t","h":16.1,"f":11.3},{"p":9,"s":"t","h":17.6,"f":10.2},{"p":9,"s":"t","h":18.6,"f":10.4},{"p":9,"s":"t","h":19.4,"f":14.7},{"p":9,"s":"t","h":20.4,"f":18.1},{"p":9,"s":"t","h":21.6,"f":18.3},{"p":9,"s":"t","h":23.1,"f":18.2},{"p":9,"s":"t","h":24,"f":17.8},
{"p":9,"s":"l","h":0,"f":13.4},{"p":9,"s":"l","h":1.1,"f":12.7},{"p":9,"s":"l","h":2.6,"f":11.8},{"p":9,"s":"l","h":4.1,"f":10.2},{"p":9,"s":"l","h":5.1,"f":9.8},{"p":9,"s":"l","h":5.8,"f":5.7},{"p":9,"s":"l","h":6.4,"f":2.6},{"p":9,"s":"l","h":6.6,"f":0},{"p":9,"s":"l","h":11.1,"f":0},{"p":9,"s":"l","h":11.4,"f":2.6},{"p":9,"s":"l","h":11.8,"f":5.7},{"p":9,"s":"l","h":12.4,"f":8.4},{"p":9,"s":"l","h":13.1,"f":11.1},{"p":9,"s":"l","h":14.6,"f":12.5},{"p":9,"s":"l","h":16.1,"f":13.4},{"p":9,"s":"l","h":17.6,"f":14},{"p":9,"s":"l","h":19.1,"f":14.3},{"p":9,"s":"l","h":20.6,"f":14},{"p":9,"s":"l","h":22.1,"f":13.9},{"p":9,"s":"l","h":23.6,"f":13.4},
{"p":9,"b":"d","h0":-0.4,"h1":1.1,"f":25},{"p":9,"b":"d","h0":20.6,"h1":24.6,"f":25},{"p":9,"b":"d","h0":-0.4,"h1":1.4,"f":21},{"p":9,"b":"d","h0":20.6,"h1":24.6,"f":21},
{"p":9,"b":"s","h0":-0.6,"h1":2.5,"f":14},{"p":9,"b":"d","h0":2.5,"h1":18,"f":14},{"p":9,"b":"s","h0":18,"h1":25.1,"f":14},
{"p":9,"b":"s","h0":4.6,"h1":12.1,"f":10},{"p":9,"b":"s","h0":5.4,"h1":7.9,"f":7},{"p":9,"b":"s","h0":9.1,"h1":12.1,"f":7},

{"p":10,"s":"u","h":0,"f":16.1},{"p":10,"s":"u","h":0.4,"f":14.7},{"p":10,"s":"u","h":1.4,"f":14},{"p":10,"s":"u","h":2.4,"f":14.3},{"p":10,"s":"u","h":3.4,"f":17.9},{"p":10,"s":"u","h":4.6,"f":21},{"p":10,"s":"u","h":5.8,"f":22.4},{"p":10,"s":"u","h":7.4,"f":23.3},{"p":10,"s":"u","h":8.8,"f":24.6},{"p":10,"s":"u","h":10.1,"f":22.8},{"p":10,"s":"u","h":11.4,"f":20.6},{"p":10,"s":"u","h":12.8,"f":18.3},{"p":10,"s":"u","h":14.4,"f":17.6},{"p":10,"s":"u","h":15.8,"f":17.9},{"p":10,"s":"u","h":17.4,"f":18.8},{"p":10,"s":"u","h":18.4,"f":18.3},{"p":10,"s":"u","h":19.4,"f":16.1},{"p":10,"s":"u","h":20.4,"f":17},{"p":10,"s":"u","h":21.1,"f":17.6},{"p":10,"s":"u","h":22.4,"f":17},{"p":10,"s":"u","h":24,"f":15.6},
{"p":10,"s":"m","h":0,"f":13.8},{"p":10,"s":"m","h":0.4,"f":12.9},{"p":10,"s":"m","h":1.4,"f":11.8},{"p":10,"s":"m","h":2.6,"f":12.9},{"p":10,"s":"m","h":3.8,"f":16.1},{"p":10,"s":"m","h":5.4,"f":18.8},{"p":10,"s":"m","h":6.8,"f":19.9},{"p":10,"s":"m","h":8.6,"f":21},{"p":10,"s":"m","h":9.8,"f":18.8},{"p":10,"s":"m","h":11.1,"f":16.5},{"p":10,"s":"m","h":12.4,"f":15.4},{"p":10,"s":"m","h":13.8,"f":14.9},{"p":10,"s":"m","h":15.4,"f":14.9},{"p":10,"s":"m","h":16.8,"f":15.4},{"p":10,"s":"m","h":18.4,"f":15.2},{"p":10,"s":"m","h":19.4,"f":13.4},{"p":10,"s":"m","h":20.4,"f":14},{"p":10,"s":"m","h":21.4,"f":14.3},{"p":10,"s":"m","h":22.4,"f":13.8},{"p":10,"s":"m","h":24,"f":12.9},
{"p":10,"s":"t","h":0,"f":10},{"p":10,"s":"t","h":0.6,"f":9.9},{"p":10,"s":"t","h":1.6,"f":9.5},{"p":10,"s":"t","h":2.6,"f":10},{"p":10,"s":"t","h":3.6,"f":12.9},{"p":10,"s":"t","h":4.8,"f":14.7},{"p":10,"s":"t","h":5.8,"f":15.6},{"p":10,"s":"t","h":7.4,"f":16.5},{"p":10,"s":"t","h":8.8,"f":17.6},{"p":10,"s":"t","h":9.6,"f":14.7},{"p":10,"s":"t","h":10.4,"f":12.9},{"p":10,"s":"t","h":11.6,"f":12.2},{"p":10,"s":"t","h":12.8,"f":11.8},{"p":10,"s":"t","h":14.4,"f":11.6},{"p":10,"s":"t","h":15.8,"f":11.8},{"p":10,"s":"t","h":16.8,"f":12.2},{"p":10,"s":"t","h":18.1,"f":12.5},{"p":10,"s":"t","h":19.1,"f":11.6},{"p":10,"s":"t","h":20.1,"f":10.7},{"p":10,"s":"t","h":21.1,"f":11.6},{"p":10,"s":"t","h":22.4,"f":10.7},{"p":10,"s":"t","h":24,"f":10},
{"p":10,"s":"l","h":0,"f":12},{"p":10,"s":"l","h":1.4,"f":12.9},{"p":10,"s":"l","h":2.4,"f":13.4},{"p":10,"s":"l","h":3.8,"f":13.8},{"p":10,"s":"l","h":5.4,"f":13.8},{"p":10,"s":"l","h":7.4,"f":13.4},{"p":10,"s":"l","h":8.8,"f":12.9},{"p":10,"s":"l","h":10.4,"f":12.5},{"p":10,"s":"l","h":12.4,"f":11.8},{"p":10,"s":"l","h":13.8,"f":11.6},{"p":10,"s":"l","h":15.4,"f":11.1},{"p":10,"s":"l","h":16.1,"f":8.9},{"p":10,"s":"l","h":16.6,"f":6.2},{"p":10,"s":"l","h":17.4,"f":3},{"p":10,"s":"l","h":17.8,"f":0},{"p":10,"s":"l","h":20.8,"f":0},{"p":10,"s":"l","h":21.4,"f":3},{"p":10,"s":"l","h":21.8,"f":6.2},{"p":10,"s":"l","h":22.4,"f":8.4},{"p":10,"s":"l","h":22.8,"f":9.3},
{"p":10,"b":"d","h0":5.4,"h1":11.4,"f":21},{"p":10,"b":"d","h0":4.6,"h1":18.4,"f":18},
{"p":10,"b":"d","h0":-0.6,"h1":3.4,"f":14},{"p":10,"b":"s","h0":3.4,"h1":9.9,"f":14},{"p":10,"b":"d","h0":9.9,"h1":24.9,"f":14},{"p":10,"b":"s","h0":15.1,"h1":24.4,"f":10},

{"p":11,"s":"u","h":0,"f":17},{"p":11,"s":"u","h":0.5,"f":16.5},{"p":11,"s":"u","h":1.8,"f":15.8},{"p":11,"s":"u","h":3,"f":15.4},{"p":11,"s":"u","h":4,"f":14.7},{"p":11,"s":"u","h":5,"f":16.1},{"p":11,"s":"u","h":6,"f":18.8},{"p":11,"s":"u","h":7,"f":21},{"p":11,"s":"u","h":8,"f":22.9},{"p":11,"s":"u","h":8.8,"f":24.4},{"p":11,"s":"u","h":9.8,"f":23.3},{"p":11,"s":"u","h":10.8,"f":20.6},{"p":11,"s":"u","h":12,"f":18.3},{"p":11,"s":"u","h":13.5,"f":17},{"p":11,"s":"u","h":15,"f":16.1},{"p":11,"s":"u","h":16.5,"f":14.9},{"p":11,"s":"u","h":18,"f":14.5},{"p":11,"s":"u","h":19.5,"f":14},{"p":11,"s":"u","h":20.5,"f":13.8},{"p":11,"s":"u","h":21.2,"f":15.6},{"p":11,"s":"u","h":22,"f":19.2},{"p":11,"s":"u","h":23,"f":17.9},{"p":11,"s":"u","h":24,"f":17},
{"p":11,"s":"m","h":0,"f":14.3},{"p":11,"s":"m","h":0.5,"f":14},{"p":11,"s":"m","h":1.8,"f":13.3},{"p":11,"s":"m","h":3,"f":12.9},{"p":11,"s":"m","h":4,"f":12.7},{"p":11,"s":"m","h":4.8,"f":12.9},{"p":11,"s":"m","h":5.5,"f":16.1},{"p":11,"s":"m","h":6.5,"f":17.9},{"p":11,"s":"m","h":7.8,"f":19.5},{"p":11,"s":"m","h":8.8,"f":20.8},{"p":11,"s":"m","h":9.8,"f":18.8},{"p":11,"s":"m","h":11,"f":16.1},{"p":11,"s":"m","h":12.2,"f":14.7},{"p":11,"s":"m","h":13.8,"f":13.8},{"p":11,"s":"m","h":15.2,"f":13.1},{"p":11,"s":"m","h":16.8,"f":12.4},{"p":11,"s":"m","h":18.2,"f":12.2},{"p":11,"s":"m","h":19.8,"f":11.8},{"p":11,"s":"m","h":21,"f":10.9},{"p":11,"s":"m","h":21.5,"f":16.5},{"p":11,"s":"m","h":22.5,"f":15.4},{"p":11,"s":"m","h":24,"f":14},
{"p":11,"s":"t","h":0,"f":11.3},{"p":11,"s":"t","h":0.8,"f":10.9},{"p":11,"s":"t","h":1.8,"f":10.6},{"p":11,"s":"t","h":3,"f":10.9},{"p":11,"s":"t","h":3.8,"f":10.3},{"p":11,"s":"t","h":4.8,"f":10.6},{"p":11,"s":"t","h":5.8,"f":12.9},{"p":11,"s":"t","h":6.8,"f":15.2},{"p":11,"s":"t","h":8,"f":16.5},{"p":11,"s":"t","h":8.8,"f":17.2},{"p":11,"s":"t","h":9.8,"f":15.2},{"p":11,"s":"t","h":10.8,"f":13.3},{"p":11,"s":"t","h":12,"f":12},{"p":11,"s":"t","h":13.2,"f":11.1},{"p":11,"s":"t","h":14.5,"f":10.4},{"p":11,"s":"t","h":16,"f":10.2},{"p":11,"s":"t","h":17.5,"f":10.2},{"p":11,"s":"t","h":19,"f":10.2},{"p":11,"s":"t","h":20.5,"f":9.7},{"p":11,"s":"t","h":21,"f":9},{"p":11,"s":"t","h":21.5,"f":13.3},{"p":11,"s":"t","h":22.5,"f":12.9},{"p":11,"s":"t","h":24,"f":11.3},
{"p":11,"s":"l","h":0,"f":12.2},{"p":11,"s":"l","h":1,"f":12.4},{"p":11,"s":"l","h":2.5,"f":12.7},{"p":11,"s":"l","h":4,"f":12.4},{"p":11,"s":"l","h":5.5,"f":12},{"p":11,"s":"l","h":6.5,"f":10.6},{"p":11,"s":"l","h":7.5,"f":11.1},{"p":11,"s":"l","h":8.8,"f":12.4},{"p":11,"s":"l","h":10,"f":13.1},{"p":11,"s":"l","h":11.5,"f":13.3},{"p":11,"s":"l","h":13,"f":13.4},{"p":11,"s":"l","h":14.5,"f":13.8},{"p":11,"s":"l","h":16,"f":14},{"p":11,"s":"l","h":17.5,"f":14},{"p":11,"s":"l","h":19,"f":13.9},{"p":11,"s":"l","h":20.5,"f":13.3},{"p":11,"s":"l","h":21.5,"f":13.1},{"p":11,"s":"l","h":22.8,"f":12.7},{"p":11,"s":"l","h":23.8,"f":12.4},
{"p":11,"b":"d","h0":6.8,"h1":10,"f":21},{"p":11,"b":"d","h0":5.5,"h1":12,"f":18},{"p":11,"b":"d","h0":21.8,"h1":23.5,"f":18},
{"p":11,"b":"d","h0":-0.4,"h1":5.8,"f":14},{"p":11,"b":"s","h0":5.8,"h1":19,"f":14},{"p":11,"b":"d","h0":19,"h1":24.5,"f":14},

{"p":12,"s":"u","h":0,"f":21.9},{"p":12,"s":"u","h":0.2,"f":20.1},{"p":12,"s":"u","h":1.4,"f":18.3},{"p":12,"s":"u","h":2.8,"f":17.4},{"p":12,"s":"u","h":3.8,"f":17},{"p":12,"s":"u","h":4.8,"f":18.1},{"p":12,"s":"u","h":5.8,"f":17.9},{"p":12,"s":"u","h":6.8,"f":17.6},{"p":12,"s":"u","h":7.8,"f":14.3},{"p":12,"s":"u","h":8.8,"f":15.6},{"p":12,"s":"u","h":9.8,"f":19.2},{"p":12,"s":"u","h":10.8,"f":17},{"p":12,"s":"u","h":12.4,"f":15.6},{"p":12,"s":"u","h":13.8,"f":14.7},{"p":12,"s":"u","h":15.4,"f":13.8},{"p":12,"s":"u","h":16.8,"f":12.9},{"p":12,"s":"u","h":18.4,"f":11.5},{"p":12,"s":"u","h":19.6,"f":11.1},{"p":12,"s":"u","h":20.4,"f":16.1},{"p":12,"s":"u","h":21.1,"f":21.9},{"p":12,"s":"u","h":22.1,"f":25.8},{"p":12,"s":"u","h":23.1,"f":24.9},{"p":12,"s":"u","h":24,"f":21.9},
{"p":12,"s":"m","h":0,"f":18.3},{"p":12,"s":"m","h":0.6,"f":16.1},{"p":12,"s":"m","h":1.6,"f":15.2},{"p":12,"s":"m","h":2.8,"f":14.7},{"p":12,"s":"m","h":4.1,"f":14.3},{"p":12,"s":"m","h":5.1,"f":15.4},{"p":12,"s":"m","h":6.4,"f":15.2},{"p":12,"s":"m","h":7.1,"f":14.9},{"p":12,"s":"m","h":7.8,"f":12},{"p":12,"s":"m","h":8.8,"f":12.9},{"p":12,"s":"m","h":9.8,"f":15.6},{"p":12,"s":"m","h":10.8,"f":13.8},{"p":12,"s":"m","h":12.4,"f":12.4},{"p":12,"s":"m","h":13.8,"f":11.5},{"p":12,"s":"m","h":15.4,"f":10.9},{"p":12,"s":"m","h":16.8,"f":10.2},{"p":12,"s":"m","h":18.4,"f":9.3},{"p":12,"s":"m","h":19.4,"f":10.2},{"p":12,"s":"m","h":20.4,"f":16.1},{"p":12,"s":"m","h":21.4,"f":20.6},{"p":12,"s":"m","h":22.1,"f":21},{"p":12,"s":"m","h":23.1,"f":19.9},{"p":12,"s":"m","h":24,"f":18.1},
{"p":12,"s":"t","h":0,"f":14.3},{"p":12,"s":"t","h":0.4,"f":12.4},{"p":12,"s":"t","h":1.4,"f":12},{"p":12,"s":"t","h":2.6,"f":11.5},{"p":12,"s":"t","h":3.8,"f":11.1},{"p":12,"s":"t","h":4.6,"f":12.4},{"p":12,"s":"t","h":5.8,"f":12.4},{"p":12,"s":"t","h":6.8,"f":12.7},{"p":12,"s":"t","h":7.8,"f":10},{"p":12,"s":"t","h":8.8,"f":11.1},{"p":12,"s":"t","h":9.8,"f":12.2},{"p":12,"s":"t","h":10.8,"f":10.9},{"p":12,"s":"t","h":12.4,"f":9.7},{"p":12,"s":"t","h":13.8,"f":9},{"p":12,"s":"t","h":15.4,"f":8.8},{"p":12,"s":"t","h":16.8,"f":8.8},{"p":12,"s":"t","h":18.1,"f":8.1},{"p":12,"s":"t","h":19.1,"f":8.8},{"p":12,"s":"t","h":20.1,"f":12.9},{"p":12,"s":"t","h":21.1,"f":16.1},{"p":12,"s":"t","h":22.1,"f":16.7},{"p":12,"s":"t","h":23.1,"f":15.8},{"p":12,"s":"t","h":24,"f":14.3},
{"p":12,"s":"l","h":0,"f":12},{"p":12,"s":"l","h":1.4,"f":12},{"p":12,"s":"l","h":2.8,"f":11.5},{"p":12,"s":"l","h":4.1,"f":10.9},{"p":12,"s":"l","h":5.4,"f":9.7},{"p":12,"s":"l","h":5.6,"f":8.4},{"p":12,"s":"l","h":6.1,"f":5.7},{"p":12,"s":"l","h":6.4,"f":2.5},{"p":12,"s":"l","h":6.6,"f":0},{"p":12,"s":"l","h":8.8,"f":0},{"p":12,"s":"l","h":9.1,"f":2.5},{"p":12,"s":"l","h":9.6,"f":5.7},{"p":12,"s":"l","h":10.1,"f":7.9},{"p":12,"s":"l","h":10.8,"f":9.7},{"p":12,"s":"l","h":12.4,"f":12},{"p":12,"s":"l","h":13.8,"f":12.7},{"p":12,"s":"l","h":15.4,"f":12.9},{"p":12,"s":"l","h":16.8,"f":12.4},{"p":12,"s":"l","h":18.4,"f":11.5},{"p":12,"s":"l","h":19.6,"f":9.7},{"p":12,"s":"l","h":20.4,"f":8.6},{"p":12,"s":"l","h":21.1,"f":8.5},{"p":12,"s":"l","h":22.1,"f":10.2},{"p":12,"s":"l","h":23.4,"f":11.5},
{"p":12,"b":"d","h0":21.9,"h1":23.9,"f":25},{"p":12,"b":"d","h0":22.4,"h1":24.6,"f":21},{"p":12,"b":"d","h0":-0.4,"h1":7.4,"f":18},{"p":12,"b":"s","h0":21.1,"h1":24.6,"f":18},
{"p":12,"b":"s","h0":-1.2,"h1":0.4,"f":14},{"p":12,"b":"d","h0":0.4,"h1":20.4,"f":14},{"p":12,"b":"s","h0":20.4,"h1":25.1,"f":14},
{"p":12,"b":"s","h0":4.9,"h1":11.1,"f":10},{"p":12,"b":"s","h0":16.6,"h1":20.9,"f":10},{"p":12,"b":"s","h0":6.9,"h1":8.9,"f":7},

{"p":13,"s":"u","h":0,"f":30.1},{"p":13,"s":"u","h":0.4,"f":31},{"p":13,"s":"u","h":1.4,"f":33.7},{"p":13,"s":"u","h":2.6,"f":34},{"p":13,"s":"u","h":3.8,"f":34.6},{"p":13,"s":"u","h":4.8,"f":34.9},{"p":13,"s":"u","h":6.1,"f":34},{"p":13,"s":"u","h":7.1,"f":32.8},{"p":13,"s":"u","h":8.1,"f":29.8},{"p":13,"s":"u","h":9.1,"f":25},{"p":13,"s":"u","h":10.1,"f":22},{"p":13,"s":"u","h":11.1,"f":20.5},{"p":13,"s":"u","h":12.1,"f":19.3},{"p":13,"s":"u","h":13.1,"f":19},{"p":13,"s":"u","h":14.6,"f":18.7},{"p":13,"s":"u","h":16.1,"f":19.6},{"p":13,"s":"u","h":17.1,"f":19.9},{"p":13,"s":"u","h":18.1,"f":18.7},{"p":13,"s":"u","h":19.1,"f":17.8},{"p":13,"s":"u","h":20.1,"f":16.6},{"p":13,"s":"u","h":21.1,"f":25},{"p":13,"s":"u","h":22.1,"f":28.6},{"p":13,"s":"u","h":23.1,"f":30.1},{"p":13,"s":"u","h":24,"f":28.6},
{"p":13,"s":"m","h":0,"f":26.8},{"p":13,"s":"m","h":0.6,"f":28},{"p":13,"s":"m","h":1.4,"f":29.5},{"p":13,"s":"m","h":2.6,"f":29.5},{"p":13,"s":"m","h":3.6,"f":30.1},{"p":13,"s":"m","h":4.8,"f":30.5},{"p":13,"s":"m","h":6.1,"f":29.8},{"p":13,"s":"m","h":7.1,"f":28.6},{"p":13,"s":"m","h":8.1,"f":25.6},{"p":13,"s":"m","h":9.1,"f":21.4},{"p":13,"s":"m","h":10.1,"f":18.4},{"p":13,"s":"m","h":11.1,"f":17.5},{"p":13,"s":"m","h":12.1,"f":16.6},{"p":13,"s":"m","h":13.6,"f":16},{"p":13,"s":"m","h":15.1,"f":15.7},{"p":13,"s":"m","h":16.1,"f":15.7},{"p":13,"s":"m","h":17.1,"f":16.3},{"p":13,"s":"m","h":18.1,"f":15.7},{"p":13,"s":"m","h":19.1,"f":14.5},{"p":13,"s":"m","h":20.1,"f":13.6},{"p":13,"s":"m","h":21.1,"f":19.6},{"p":13,"s":"m","h":22.1,"f":24.4},{"p":13,"s":"m","h":23.1,"f":26.2},{"p":13,"s":"m","h":24,"f":26.8},
{"p":13,"s":"t","h":0,"f":22.3},{"p":13,"s":"t","h":0.6,"f":22.6},{"p":13,"s":"t","h":1.6,"f":23.5},{"p":13,"s":"t","h":2.6,"f":23.2},{"p":13,"s":"t","h":3.6,"f":24.1},{"p":13,"s":"t","h":4.8,"f":24.9},{"p":13,"s":"t","h":6.1,"f":23.8},{"p":13,"s":"t","h":7.1,"f":22},{"p":13,"s":"t","h":8.1,"f":18.4},{"p":13,"s":"t","h":9.1,"f":14.8},{"p":13,"s":"t","h":10.1,"f":13.6},{"p":13,"s":"t","h":11.6,"f":13},{"p":13,"s":"t","h":13.1,"f":12.5},{"p":13,"s":"t","h":14.6,"f":12.4},{"p":13,"s":"t","h":16.1,"f":12.7},{"p":13,"s":"t","h":17.1,"f":13},{"p":13,"s":"t","h":18.1,"f":12.4},{"p":13,"s":"t","h":19.4,"f":10.9},{"p":13,"s":"t","h":20.1,"f":10.3},{"p":13,"s":"t","h":21.1,"f":16},{"p":13,"s":"t","h":22.1,"f":20.5},{"p":13,"s":"t","h":23.1,"f":22},{"p":13,"s":"t","h":24,"f":22.6},
{"p":13,"s":"l","h":0,"f":13.6},{"p":13,"s":"l","h":1.1,"f":14.5},{"p":13,"s":"l","h":2.6,"f":14.8},{"p":13,"s":"l","h":4.1,"f":14.5},{"p":13,"s":"l","h":5.6,"f":13.9},{"p":13,"s":"l","h":6.8,"f":13},{"p":13,"s":"l","h":7.8,"f":11.5},{"p":13,"s":"l","h":8.6,"f":8.8},{"p":13,"s":"l","h":9.1,"f":5.2},{"p":13,"s":"l","h":9.5,"f":1.6},{"p":13,"s":"l","h":9.6,"f":0},{"p":13,"s":"l","h":20.1,"f":0},{"p":13,"s":"l","h":20.4,"f":3.4},{"p":13,"s":"l","h":20.8,"f":7},{"p":13,"s":"l","h":21.6,"f":10},{"p":13,"s":"l","h":22.6,"f":11.8},{"p":13,"s":"l","h":23.4,"f":13},
{"p":13,"b":"d","h0":-0.4,"h1":8.1,"f":28},{"p":13,"b":"d","h0":22.6,"h1":24.6,"f":28},{"p":13,"b":"d","h0":-0.4,"h1":1.1,"f":25},{"p":13,"b":"d","h0":8.1,"h1":9.4,"f":25},{"p":13,"b":"d","h0":22.6,"h1":24.6,"f":25},
{"p":13,"b":"s","h0":-0.4,"h1":7.4,"f":21},{"p":13,"b":"d","h0":7.4,"h1":11.6,"f":21},{"p":13,"b":"s","h0":22.1,"h1":24.9,"f":21},
{"p":13,"b":"s","h0":6.9,"h1":8.6,"f":18},{"p":13,"b":"d","h0":8.6,"h1":22.9,"f":18},{"p":13,"b":"s","h0":7.9,"h1":11.1,"f":14},{"p":13,"b":"d","h0":11.1,"h1":21.9,"f":14},{"p":13,"b":"s","h0":8.9,"h1":20.9,"f":10},

{"p":14,"s":"u","h":0,"f":15.3},{"p":14,"s":"u","h":0.4,"f":15.1},{"p":14,"s":"u","h":1.4,"f":14},{"p":14,"s":"u","h":2.4,"f":15.6},{"p":14,"s":"u","h":3.1,"f":20.3},{"p":14,"s":"u","h":3.8,"f":25.6},{"p":14,"s":"u","h":4.8,"f":28.7},{"p":14,"s":"u","h":5.6,"f":30},{"p":14,"s":"u","h":6.6,"f":29.2},{"p":14,"s":"u","h":7.6,"f":28.7},{"p":14,"s":"u","h":8.6,"f":26.6},{"p":14,"s":"u","h":9.6,"f":23.5},{"p":14,"s":"u","h":10.6,"f":19.8},{"p":14,"s":"u","h":11.6,"f":16.6},{"p":14,"s":"u","h":12.8,"f":14.5},{"p":14,"s":"u","h":14.4,"f":13.5},{"p":14,"s":"u","h":15.8,"f":12.4},{"p":14,"s":"u","h":17.4,"f":11.6},{"p":14,"s":"u","h":18.8,"f":11.4},{"p":14,"s":"u","h":20.4,"f":11.4},{"p":14,"s":"u","h":21.4,"f":11.4},{"p":14,"s":"u","h":22.1,"f":15.6},{"p":14,"s":"u","h":23.4,"f":15.6},
{"p":14,"s":"m","h":0,"f":12.2},{"p":14,"s":"m","h":0.6,"f":11.6},{"p":14,"s":"m","h":1.6,"f":10.6},{"p":14,"s":"m","h":2.6,"f":12.4},{"p":14,"s":"m","h":3.4,"f":19.3},{"p":14,"s":"m","h":4.1,"f":24},{"p":14,"s":"m","h":5.1,"f":26.1},{"p":14,"s":"m","h":6.4,"f":25},{"p":14,"s":"m","h":7.6,"f":24.2},{"p":14,"s":"m","h":8.6,"f":22.4},{"p":14,"s":"m","h":9.6,"f":19.3},{"p":14,"s":"m","h":10.6,"f":16.6},{"p":14,"s":"m","h":11.6,"f":14.5},{"p":14,"s":"m","h":13.1,"f":12.7},{"p":14,"s":"m","h":14.6,"f":11.9},{"p":14,"s":"m","h":16.1,"f":11.1},{"p":14,"s":"m","h":17.6,"f":10.3},{"p":14,"s":"m","h":18.8,"f":9.8},{"p":14,"s":"m","h":20.4,"f":9.8},{"p":14,"s":"m","h":21.4,"f":9.8},{"p":14,"s":"m","h":22.1,"f":12.2},{"p":14,"s":"m","h":24,"f":12.2},
{"p":14,"s":"t","h":0,"f":9.5},{"p":14,"s":"t","h":0.6,"f":9.3},{"p":14,"s":"t","h":1.6,"f":8.2},{"p":14,"s":"t","h":2.6,"f":9},{"p":14,"s":"t","h":3.6,"f":16.1},{"p":14,"s":"t","h":4.4,"f":20.8},{"p":14,"s":"t","h":5.4,"f":21.1},{"p":14,"s":"t","h":6.4,"f":20.3},{"p":14,"s":"t","h":7.6,"f":19.5},{"p":14,"s":"t","h":8.6,"f":17.2},{"p":14,"s":"t","h":9.6,"f":14.5},{"p":14,"s":"t","h":10.6,"f":12.4},{"p":14,"s":"t","h":11.8,"f":10.9},{"p":14,"s":"t","h":13.4,"f":9.5},{"p":14,"s":"t","h":14.8,"f":8.8},{"p":14,"s":"t","h":16.4,"f":8.2},{"p":14,"s":"t","h":17.8,"f":7.7},{"p":14,"s":"t","h":19.4,"f":7.7},{"p":14,"s":"t","h":20.8,"f":7.8},{"p":14,"s":"t","h":21.6,"f":9.3},{"p":14,"s":"t","h":22.6,"f":9.8},{"p":14,"s":"t","h":24,"f":9.3},
{"p":14,"s":"l","h":0,"f":10.3},{"p":14,"s":"l","h":0.8,"f":11.6},{"p":14,"s":"l","h":2.4,"f":11.8},{"p":14,"s":"l","h":3.8,"f":11.6},{"p":14,"s":"l","h":5.4,"f":11.5},{"p":14,"s":"l","h":6.8,"f":12.2},{"p":14,"s":"l","h":8.4,"f":12.7},{"p":14,"s":"l","h":9.8,"f":12.5},{"p":14,"s":"l","h":11.1,"f":11.9},{"p":14,"s":"l","h":12.4,"f":10.9},{"p":14,"s":"l","h":13.6,"f":9.8},{"p":14,"s":"l","h":14.4,"f":7.7},{"p":14,"s":"l","h":14.8,"f":5.1},{"p":14,"s":"l","h":15.4,"f":2.5},{"p":14,"s":"l","h":15.6,"f":0},{"p":14,"s":"l","h":21.1,"f":0},{"p":14,"s":"l","h":21.4,"f":2.5},{"p":14,"s":"l","h":21.8,"f":5.1},{"p":14,"s":"l","h":22.6,"f":7.7},{"p":14,"s":"l","h":23.4,"f":9.3},
{"p":14,"b":"d","h0":4.4,"h1":7.9,"f":28},{"p":14,"b":"d","h0":4.1,"h1":9.1,"f":25},{"p":14,"b":"d","h0":7.6,"h1":10.4,"f":21},{"p":14,"b":"s","h0":4.6,"h1":8.4,"f":18},
{"p":14,"b":"d","h0":-1,"h1":0,"f":14},{"p":14,"b":"s","h0":2.9,"h1":4.6,"f":14},{"p":14,"b":"s","h0":7.9,"h1":11.4,"f":14},{"p":14,"b":"d","h0":11.4,"h1":24.6,"f":14},
{"p":14,"b":"d","h0":13.4,"h1":22,"f":10},{"p":14,"b":"s","h0":22,"h1":24.1,"f":10},{"p":14,"b":"s","h0":14.1,"h1":22.9,"f":7},

{"p":15,"s":"u","h":0,"f":24.6},{"p":15,"s":"u","h":0.5,"f":24.1},{"p":15,"s":"u","h":1.8,"f":24.1},{"p":15,"s":"u","h":3.2,"f":24.8},{"p":15,"s":"u","h":4.2,"f":24.1},{"p":15,"s":"u","h":5.2,"f":21.9},{"p":15,"s":"u","h":6.2,"f":19.6},{"p":15,"s":"u","h":7.2,"f":17.4},{"p":15,"s":"u","h":8.5,"f":15.6},{"p":15,"s":"u","h":9.8,"f":14.7},{"p":15,"s":"u","h":11,"f":14},{"p":15,"s":"u","h":12.2,"f":13.5},{"p":15,"s":"u","h":13.2,"f":13.3},{"p":15,"s":"u","h":14.2,"f":14.7},{"p":15,"s":"u","h":15.5,"f":18.7},{"p":15,"s":"u","h":16.8,"f":18.5},{"p":15,"s":"u","h":18,"f":18.3},{"p":15,"s":"u","h":19,"f":16.9},{"p":15,"s":"u","h":20,"f":15.3},{"p":15,"s":"u","h":21,"f":17.4},{"p":15,"s":"u","h":21.8,"f":21},{"p":15,"s":"u","h":22.5,"f":23.2},{"p":15,"s":"u","h":23.2,"f":24.4},
{"p":15,"s":"m","h":0,"f":21.4},{"p":15,"s":"m","h":0.5,"f":21.4},{"p":15,"s":"m","h":1.8,"f":21.4},{"p":15,"s":"m","h":3.2,"f":21},{"p":15,"s":"m","h":4.2,"f":20.1},{"p":15,"s":"m","h":5.2,"f":17.8},{"p":15,"s":"m","h":6.2,"f":15.6},{"p":15,"s":"m","h":7.5,"f":13.3},{"p":15,"s":"m","h":8.8,"f":12.2},{"p":15,"s":"m","h":10,"f":11.7},{"p":15,"s":"m","h":11.2,"f":11.6},{"p":15,"s":"m","h":12.8,"f":11.5},{"p":15,"s":"m","h":13.8,"f":12},{"p":15,"s":"m","h":14.8,"f":13.8},{"p":15,"s":"m","h":16,"f":14.9},{"p":15,"s":"m","h":17,"f":14.7},{"p":15,"s":"m","h":18,"f":14.7},{"p":15,"s":"m","h":19,"f":13.8},{"p":15,"s":"m","h":20,"f":12.4},{"p":15,"s":"m","h":20.8,"f":12.6},{"p":15,"s":"m","h":21.5,"f":18.3},{"p":15,"s":"m","h":22.5,"f":21},{"p":15,"s":"m","h":23.5,"f":21.4},{"p":15,"s":"m","h":24,"f":21.2},
{"p":15,"s":"t","h":0,"f":17.6},{"p":15,"s":"t","h":0.8,"f":17.5},{"p":15,"s":"t","h":2.5,"f":17.4},{"p":15,"s":"t","h":3.5,"f":16.5},{"p":15,"s":"t","h":4.5,"f":14.9},{"p":15,"s":"t","h":5.8,"f":13.3},{"p":15,"s":"t","h":6.8,"f":12},{"p":15,"s":"t","h":7.8,"f":10.4},{"p":15,"s":"t","h":8.8,"f":9.5},{"p":15,"s":"t","h":10,"f":9.2},{"p":15,"s":"t","h":11.2,"f":9},{"p":15,"s":"t","h":12.5,"f":9.2},{"p":15,"s":"t","h":13.8,"f":9.7},{"p":15,"s":"t","h":14.8,"f":11.1},{"p":15,"s":"t","h":16,"f":11.7},{"p":15,"s":"t","h":17,"f":11.5},{"p":15,"s":"t","h":18,"f":11.1},{"p":15,"s":"t","h":19,"f":9.9},{"p":15,"s":"t","h":20,"f":9.3},{"p":15,"s":"t","h":21,"f":9.3},{"p":15,"s":"t","h":21.8,"f":14.7},{"p":15,"s":"t","h":22.5,"f":18.3},{"p":15,"s":"t","h":23.5,"f":18},{"p":15,"s":"t","h":24,"f":17.6},
{"p":15,"s":"l","h":0,"f":14},{"p":15,"s":"l","h":1,"f":13.8},{"p":15,"s":"l","h":2.5,"f":13.8},{"p":15,"s":"l","h":4,"f":13.3},{"p":15,"s":"l","h":5.2,"f":12.9},{"p":15,"s":"l","h":6,"f":12.2},{"p":15,"s":"l","h":7,"f":11.1},{"p":15,"s":"l","h":8,"f":9.7},{"p":15,"s":"l","h":8.5,"f":7.4},{"p":15,"s":"l","h":9,"f":4.3},{"p":15,"s":"l","h":9.4,"f":1.6},{"p":15,"s":"l","h":9.6,"f":0},{"p":15,"s":"l","h":14,"f":0},{"p":15,"s":"l","h":14.2,"f":2.5},{"p":15,"s":"l","h":14.8,"f":5.6},{"p":15,"s":"l","h":15.2,"f":8.3},{"p":15,"s":"l","h":16,"f":10.1},{"p":15,"s":"l","h":17,"f":11.5},{"p":15,"s":"l","h":18.5,"f":12.6},{"p":15,"s":"l","h":20,"f":13.1},{"p":15,"s":"l","h":21.5,"f":13.3},{"p":15,"s":"l","h":23,"f":13.5},{"p":15,"s":"l","h":24,"f":14},
{"p":15,"b":"d","h0":-0.4,"h1":4.3,"f":21},{"p":15,"b":"d","h0":22,"h1":24.8,"f":21},{"p":15,"b":"s","h0":3.5,"h1":5.3,"f":18},{"p":15,"b":"s","h0":22,"h1":24,"f":18},
{"p":15,"b":"s","h0":-0.4,"h1":4,"f":14},{"p":15,"b":"d","h0":4,"h1":25,"f":14},{"p":15,"b":"d","h0":7.8,"h1":13,"f":10},{"p":15,"b":"s","h0":13,"h1":16.5,"f":10},{"p":15,"b":"s","h0":8,"h1":14.8,"f":7},

{"p":16,"s":"u","h":0,"f":29.2},{"p":16,"s":"u","h":0.4,"f":30.1},{"p":16,"s":"u","h":1.4,"f":32.2},{"p":16,"s":"u","h":2.6,"f":31.6},{"p":16,"s":"u","h":3.8,"f":32.8},{"p":16,"s":"u","h":4.8,"f":34.3},{"p":16,"s":"u","h":5.8,"f":33.4},{"p":16,"s":"u","h":7.1,"f":31.6},{"p":16,"s":"u","h":8.1,"f":28.6},{"p":16,"s":"u","h":9.1,"f":24.4},{"p":16,"s":"u","h":10.1,"f":21.3},{"p":16,"s":"u","h":11.4,"f":19.5},{"p":16,"s":"u","h":12.8,"f":18.6},{"p":16,"s":"u","h":14.4,"f":18},{"p":16,"s":"u","h":15.8,"f":18.6},{"p":16,"s":"u","h":17.1,"f":19.2},{"p":16,"s":"u","h":18.1,"f":16.5},{"p":16,"s":"u","h":19.1,"f":14.1},{"p":16,"s":"u","h":20.1,"f":17.1},{"p":16,"s":"u","h":20.8,"f":25},{"p":16,"s":"u","h":21.8,"f":27.4},{"p":16,"s":"u","h":23.1,"f":28},{"p":16,"s":"u","h":23.8,"f":26.8},
{"p":16,"s":"m","h":0,"f":25},{"p":16,"s":"m","h":0.6,"f":27.4},{"p":16,"s":"m","h":1.4,"f":28.3},{"p":16,"s":"m","h":2.6,"f":28},{"p":16,"s":"m","h":3.8,"f":28.9},{"p":16,"s":"m","h":4.8,"f":29.6},{"p":16,"s":"m","h":5.8,"f":28.9},{"p":16,"s":"m","h":6.8,"f":26.8},{"p":16,"s":"m","h":7.8,"f":21.9},{"p":16,"s":"m","h":8.8,"f":17.7},{"p":16,"s":"m","h":10.1,"f":15.9},{"p":16,"s":"m","h":11.6,"f":15},{"p":16,"s":"m","h":13.1,"f":14.7},{"p":16,"s":"m","h":14.6,"f":14.3},{"p":16,"s":"m","h":16.1,"f":14.4},{"p":16,"s":"m","h":17.1,"f":14.7},{"p":16,"s":"m","h":18.1,"f":12.9},{"p":16,"s":"m","h":19.1,"f":11.4},{"p":16,"s":"m","h":20.1,"f":14.7},{"p":16,"s":"m","h":20.8,"f":20.7},{"p":16,"s":"m","h":21.8,"f":23.8},{"p":16,"s":"m","h":23.1,"f":24.4},{"p":16,"s":"m","h":24,"f":24.5},
{"p":16,"s":"t","h":0,"f":20.4},{"p":16,"s":"t","h":0.6,"f":22.5},{"p":16,"s":"t","h":1.4,"f":23.2},{"p":16,"s":"t","h":2.6,"f":22.9},{"p":16,"s":"t","h":3.6,"f":23.8},{"p":16,"s":"t","h":4.8,"f":24.7},{"p":16,"s":"t","h":5.8,"f":23.8},{"p":16,"s":"t","h":6.8,"f":21.9},{"p":16,"s":"t","h":7.8,"f":17.1},{"p":16,"s":"t","h":8.8,"f":13.5},{"p":16,"s":"t","h":10.1,"f":11.7},{"p":16,"s":"t","h":11.4,"f":11.1},{"p":16,"s":"t","h":12.6,"f":11.7},{"p":16,"s":"t","h":13.8,"f":11.4},{"p":16,"s":"t","h":15.4,"f":11.1},{"p":16,"s":"t","h":16.8,"f":11.4},{"p":16,"s":"t","h":17.8,"f":10.5},{"p":16,"s":"t","h":19.1,"f":8.7},{"p":16,"s":"t","h":19.8,"f":10.5},{"p":16,"s":"t","h":20.6,"f":15.9},{"p":16,"s":"t","h":21.6,"f":19.5},{"p":16,"s":"t","h":22.6,"f":20.3},{"p":16,"s":"t","h":24,"f":20.4},
{"p":16,"s":"l","h":0,"f":12.3},{"p":16,"s":"l","h":0.8,"f":12.9},{"p":16,"s":"l","h":2.4,"f":13},{"p":16,"s":"l","h":3.8,"f":12.6},{"p":16,"s":"l","h":5.4,"f":11.7},{"p":16,"s":"l","h":6.6,"f":10.8},{"p":16,"s":"l","h":7.4,"f":8.7},{"p":16,"s":"l","h":7.8,"f":5.1},{"p":16,"s":"l","h":8.2,"f":2.1},{"p":16,"s":"l","h":8.4,"f":0},{"p":16,"s":"l","h":20.1,"f":0},{"p":16,"s":"l","h":20.4,"f":3.3},{"p":16,"s":"l","h":20.8,"f":7.5},{"p":16,"s":"l","h":21.6,"f":9.9},{"p":16,"s":"l","h":22.6,"f":11.1},{"p":16,"s":"l","h":23.6,"f":12},
{"p":16,"b":"d","h0":-0.4,"h1":7.9,"f":28},{"p":16,"b":"d","h0":-0.4,"h1":6.9,"f":25},{"p":16,"b":"d","h0":21.4,"h1":24.4,"f":25},
{"p":16,"b":"s","h0":-0.6,"h1":7.9,"f":21},{"p":16,"b":"d","h0":7.9,"h1":9.9,"f":21},{"p":16,"b":"d","h0":21.9,"h1":24.6,"f":21},
{"p":16,"b":"s","h0":-1.2,"h1":0.4,"f":18},{"p":16,"b":"d","h0":9,"h1":17.5,"f":18},{"p":16,"b":"s","h0":21.4,"h1":24.9,"f":18},
{"p":16,"b":"s","h0":6.9,"h1":8.9,"f":14},{"p":16,"b":"d","h0":8.9,"h1":21.9,"f":14},{"p":16,"b":"s","h0":7.9,"h1":20.9,"f":10},{"p":16,"b":"s","h0":17.1,"h1":19.9,"f":7}
]},
"facet": {"field": "p", "type": "ordinal", "title": null, "header": {"labels": false, "labelExpr": "''", "labelFontSize": 1, "labelPadding": 0, "labelColor": "white"}},
"columns": 4,
"spacing": {"row": 46, "column": 2.7},
"bounds": "flush",
"resolve": {"scale": {"x": "independent", "y": "independent"}},
"spec": {
  "width": 234,
  "height": 286,
  "layer": [
    {
      "transform": [{"filter": "datum.s === 'u'"}],
      "mark": {"type": "line", "strokeDash": [3, 3], "strokeWidth": 1.6},
      "encoding": {
        "x": {"field": "h", "type": "quantitative",
              "scale": {"domain": [-7.74, 27.35], "nice": false, "zero": false},
              "axis": {"orient": "bottom", "offset": -36, "values": [0,1,2,3,4,5,6,7,8,9,10,11,12,13,14,15,16,17,18,19,20,21,22,23,24], "tickCount": 30,
                       "labelExpr": "datum.value % 6 === 0 ? datum.label : ''", "labelOverlap": false, "labelFlush": false,
                       "domain": false, "grid": false, "tickSize": 10, "tickWidth": 1.5, "labelFontSize": 15, "labelPadding": 3,
                       "title": "UTC", "titleX": 206, "titleY": -32, "titleAlign": "center", "titleBaseline": "middle", "titleFontSize": 14, "titleFontWeight": "normal"}},
        "y": {"field": "f", "type": "quantitative",
              "scale": {"padding": 31, "nice": false, "zero": true},
              "axis": {"orient": "left", "offset": -53.9, "values": [0,5,10,15,20,25,30,35,40], "tickCount": 30,
                       "labelOverlap": false, "labelFlush": false, "domain": false, "grid": false, "tickSize": 10, "tickWidth": 1.5,
                       "labelFontSize": 15, "labelPadding": 4,
                       "title": "MHz", "titleAngle": 0, "titleX": 4, "titleY": 18, "titleAlign": "center", "titleBaseline": "middle", "titleFontSize": 14, "titleFontWeight": "normal"}}
      }
    },
    {
      "transform": [{"filter": "datum.s === 'm'"}],
      "mark": {"type": "line", "strokeWidth": 1.3},
      "encoding": {"x": {"field": "h", "type": "quantitative"}, "y": {"field": "f", "type": "quantitative"}}
    },
    {
      "transform": [{"filter": "datum.s === 'e'"}],
      "mark": {"type": "line", "strokeWidth": 1.1},
      "encoding": {"x": {"field": "h", "type": "quantitative"}, "y": {"field": "f", "type": "quantitative"}}
    },
    {
      "transform": [{"filter": "datum.s === 't'"}],
      "mark": {"type": "line", "strokeWidth": 3, "strokeJoin": "round"},
      "encoding": {"x": {"field": "h", "type": "quantitative"}, "y": {"field": "f", "type": "quantitative"}}
    },
    {
      "transform": [{"filter": "datum.s === 'l'"}],
      "mark": {"type": "line", "strokeWidth": 3, "strokeDash": [8, 5]},
      "encoding": {"x": {"field": "h", "type": "quantitative"}, "y": {"field": "f", "type": "quantitative"}}
    },
    {
      "transform": [{"filter": "datum.b === 's'"}],
      "mark": {"type": "rule", "strokeWidth": 3.2},
      "encoding": {"x": {"field": "h0", "type": "quantitative"}, "x2": {"field": "h1"}, "y": {"field": "f", "type": "quantitative"}}
    },
    {
      "transform": [{"filter": "datum.b === 'd'"}],
      "mark": {"type": "rule", "strokeWidth": 2.2, "strokeDash": [6, 3.5]},
      "encoding": {"x": {"field": "h0", "type": "quantitative"}, "x2": {"field": "h1"}, "y": {"field": "f", "type": "quantitative"}}
    },
    {
      "transform": [{"filter": "datum.b === 'o'"}],
      "mark": {"type": "rule", "strokeWidth": 1.8, "strokeDash": [3, 3]},
      "encoding": {"x": {"field": "h0", "type": "quantitative"}, "x2": {"field": "h1"}, "y": {"field": "f", "type": "quantitative"}}
    },
    {
      "transform": [{"filter": "datum.b === 'n'"}],
      "mark": {"type": "rule", "strokeWidth": 1.2},
      "encoding": {"x": {"field": "h0", "type": "quantitative"}, "x2": {"field": "h1"}, "y": {"field": "f", "type": "quantitative"}}
    },
    {
      "transform": [{"filter": "isValid(datum.n)"}],
      "mark": {"type": "rule", "strokeWidth": 2},
      "encoding": {"x": {"datum": -0.4, "type": "quantitative"}, "y": {"field": "M", "type": "quantitative"}, "y2": {"datum": 0}}
    },
    {
      "transform": [{"filter": "isValid(datum.n)"}],
      "mark": {"type": "rule", "strokeWidth": 2},
      "encoding": {"x": {"datum": -0.4, "type": "quantitative"}, "x2": {"datum": 24.4}, "y": {"datum": 0, "type": "quantitative"}}
    },
    {
      "transform": [{"filter": "isValid(datum.n)"}],
      "mark": {"type": "text", "align": "left", "baseline": "alphabetic", "dx": 4, "dy": -54, "fontSize": 16, "fontWeight": "bold"},
      "encoding": {"x": {"datum": -7.74, "type": "quantitative"}, "y": {"field": "M", "type": "quantitative"}, "text": {"field": "n", "type": "nominal"}}
    },
    {
      "transform": [{"filter": "isValid(datum.n)"}],
      "mark": {"type": "text", "align": "right", "baseline": "alphabetic", "dx": -4, "dy": -54, "fontSize": 16, "fontWeight": "bold"},
      "encoding": {"x": {"datum": 27.35, "type": "quantitative"}, "y": {"field": "M", "type": "quantitative"}, "text": {"field": "no", "type": "nominal"}}
    },
    {
      "transform": [{"filter": "isValid(datum.n)"}],
      "mark": {"type": "text", "align": "left", "baseline": "alphabetic", "dx": 4, "dy": -37, "fontSize": 12, "font": "Liberation Serif"},
      "encoding": {"x": {"datum": -7.74, "type": "quantitative"}, "y": {"field": "M", "type": "quantitative"}, "text": {"field": "md", "type": "nominal"}}
    },
    {
      "transform": [{"filter": "isValid(datum.n)"}],
      "mark": {"type": "text", "align": "left", "baseline": "alphabetic", "dx": 117, "dy": -37, "fontSize": 12, "font": "Liberation Serif"},
      "encoding": {"x": {"datum": -7.74, "type": "quantitative"}, "y": {"field": "M", "type": "quantitative"}, "text": {"field": "pt", "type": "nominal"}}
    },
    {
      "transform": [{"filter": "isValid(datum.n)"}],
      "mark": {"type": "text", "align": "right", "baseline": "alphabetic", "dx": -20, "dy": -37, "fontSize": 12, "font": "Liberation Serif"},
      "encoding": {"x": {"datum": 27.35, "type": "quantitative"}, "y": {"field": "M", "type": "quantitative"}, "text": {"field": "km", "type": "nominal"}}
    },
    {
      "transform": [{"filter": "isValid(datum.ft) && datum.p === 13"}],
      "mark": {"type": "rule", "strokeWidth": 1, "strokeDash": [1, 1], "color": "#555555", "yOffset": 50},
      "encoding": {"x": {"datum": -13.99, "type": "quantitative"}, "x2": {"datum": 135.9}, "y": {"datum": 0, "type": "quantitative"}}
    },
    {
      "transform": [{"filter": "isValid(datum.ft) && datum.p === 13"}],
      "mark": {"type": "text", "align": "left", "baseline": "middle", "dy": 62, "fontSize": 15, "fontWeight": "bold"},
      "encoding": {"x": {"datum": -12.49, "type": "quantitative"}, "y": {"datum": 0, "type": "quantitative"}, "text": {"field": "ft", "type": "nominal"}}
    },
    {
      "transform": [{"filter": "isValid(datum.ft) && datum.p === 16"}],
      "mark": {"type": "text", "align": "right", "baseline": "middle", "dy": 62, "fontSize": 16, "fontWeight": "bold"},
      "encoding": {"x": {"datum": 27.24, "type": "quantitative"}, "y": {"datum": 0, "type": "quantitative"}, "text": {"field": "ft", "type": "nominal"}}
    }
  ]
},
"config": {
  "font": "Liberation Sans",
  "view": {"stroke": "black", "strokeWidth": 2},
  "header": {"labels": false, "labelFontSize": 1, "labelPadding": 0, "labelColor": "white"},
  "axis": {"labelColor": "black", "tickColor": "black", "titleColor": "black", "labelFont": "Liberation Sans", "titleFont": "Liberation Sans"},
  "line": {"color": "black"},
  "rule": {"color": "black"},
  "text": {"color": "black"}
}
}
